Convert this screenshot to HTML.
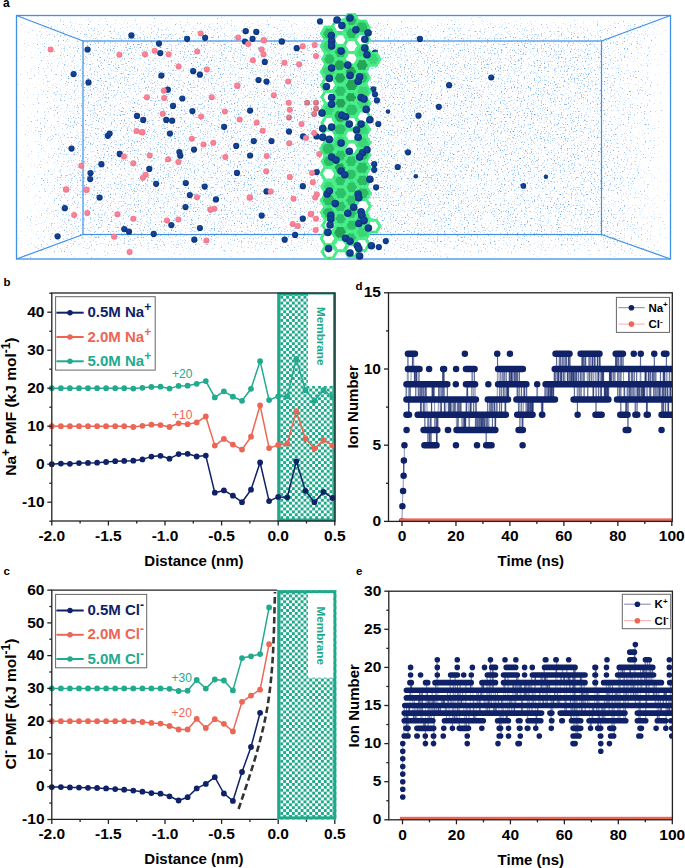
<!DOCTYPE html><html><head><meta charset="utf-8"><style>html,body{margin:0;padding:0;background:#fff;width:685px;height:868px;overflow:hidden}svg{display:block;font-family:"Liberation Sans",sans-serif}.tk{font-size:15.5px;font-weight:bold;fill:#000}.tt{font-size:15px;font-weight:bold;fill:#000}.pl{font-size:11.5px;font-weight:bold;fill:#000}</style></head><body><svg width="685" height="868" viewBox="0 0 685 868"><defs><pattern id="chk" patternUnits="userSpaceOnUse" width="5.8" height="5.8" x="280.3" y="0"><rect width="5.8" height="5.8" fill="#fff"/><rect width="2.9" height="2.9" fill="#1fa98b"/><rect x="2.9" y="2.9" width="2.9" height="2.9" fill="#1fa98b"/></pattern></defs><defs><filter id="nz" x="16" y="15" width="656" height="245" filterUnits="userSpaceOnUse" primitiveUnits="userSpaceOnUse" color-interpolation-filters="sRGB"><feTurbulence type="fractalNoise" baseFrequency="0.7" numOctaves="2" seed="3"/><feColorMatrix type="matrix" values="1 0 0 0 0  1 0 0 0 0  1 0 0 0 0  1 0 0 0 0" result="n"/><feComposite in="n" in2="SourceGraphic" operator="arithmetic" k1="0" k2="1" k3="0.15" k4="-0.15"/><feColorMatrix type="matrix" values="0 0 0 0 0.33  0 0 0 0 0.61  0 0 0 0 0.91  0 0 0 3.5 -2.03"/></filter><linearGradient id="gl" x1="0" x2="1" y1="0" y2="0"><stop offset="0" stop-color="#fff" stop-opacity="0"/><stop offset="0.35" stop-color="#fff" stop-opacity="0.62"/><stop offset="1" stop-color="#fff" stop-opacity="1"/></linearGradient><linearGradient id="gr" x1="1" x2="0" y1="0" y2="0"><stop offset="0" stop-color="#fff" stop-opacity="0"/><stop offset="0.35" stop-color="#fff" stop-opacity="0.62"/><stop offset="1" stop-color="#fff" stop-opacity="1"/></linearGradient><linearGradient id="gt" x1="0" x2="0" y1="0" y2="1"><stop offset="0" stop-color="#fff" stop-opacity="0"/><stop offset="0.35" stop-color="#fff" stop-opacity="0.62"/><stop offset="1" stop-color="#fff" stop-opacity="1"/></linearGradient><linearGradient id="gb" x1="0" x2="0" y1="1" y2="0"><stop offset="0" stop-color="#fff" stop-opacity="0"/><stop offset="0.35" stop-color="#fff" stop-opacity="0.62"/><stop offset="1" stop-color="#fff" stop-opacity="1"/></linearGradient><radialGradient id="bn" cx="0.45" cy="0.4" r="0.6"><stop offset="0" stop-color="#154a9e"/><stop offset="1" stop-color="#0a3078"/></radialGradient><radialGradient id="bp" cx="0.45" cy="0.4" r="0.6"><stop offset="0" stop-color="#fa8a9d"/><stop offset="1" stop-color="#f07489"/></radialGradient><radialGradient id="bd" cx="0.45" cy="0.4" r="0.6"><stop offset="0" stop-color="#e48c9a"/><stop offset="1" stop-color="#c86474"/></radialGradient><pattern id="hx" patternUnits="userSpaceOnUse" width="15" height="13" x="321" y="14"><rect width="15" height="13" fill="#35d571"/><polygon points="3.75,0.5 11.25,0.5 14.5,6.5 11.25,12.5 3.75,12.5 0.5,6.5" fill="#27b95c" stroke="#4cf08c" stroke-width="2.4"/></pattern></defs><text x="3" y="6.8" style="font-size:12px;font-weight:bold">a</text><g filter="url(#nz)"><rect x="16" y="15" width="656" height="245" fill="#fff" fill-opacity="0"/><rect x="83" y="41" width="518.5" height="193.5" fill="#fff"/><polygon points="16.5,15.5 83,41 83,234.5 16.5,259" fill="url(#gl)"/><polygon points="670.5,15.5 601.5,41 601.5,234.5 670.5,259" fill="url(#gr)"/><polygon points="16.5,15.5 670.5,15.5 601.5,41 83,41" fill="url(#gt)"/><polygon points="16.5,259 670.5,259 601.5,234.5 83,234.5" fill="url(#gb)"/></g><rect x="16.5" y="15.5" width="654" height="243.5" fill="none" stroke="#3f90e6" stroke-width="1.3"/><rect x="83" y="41" width="518.5" height="193.5" fill="none" stroke="#3f90e6" stroke-width="1.2"/><path d="M16.5 15.5L83 41M16.5 259L83 234.5M670.5 15.5L601.5 41M670.5 259L601.5 234.5" stroke="#3f90e6" stroke-width="1.2"/><g fill="url(#bn)"><circle cx="87.6" cy="49.5" r="3.1"/><circle cx="73.6" cy="74.1" r="3.1"/><circle cx="88.5" cy="82.4" r="3.1"/><circle cx="107.8" cy="135.8" r="3.1"/><circle cx="109.6" cy="133.6" r="3.1"/><circle cx="71.5" cy="148.6" r="3.1"/><circle cx="119.7" cy="153.9" r="3.1"/><circle cx="101.4" cy="164.2" r="3.1"/><circle cx="90.5" cy="173" r="3.1"/><circle cx="90.2" cy="179.1" r="3.1"/><circle cx="131.4" cy="35.4" r="3.1"/><circle cx="187.1" cy="38.8" r="3.1"/><circle cx="205.1" cy="37.8" r="3.1"/><circle cx="159" cy="43.6" r="3.1"/><circle cx="160.3" cy="53.1" r="3.1"/><circle cx="193.2" cy="71.2" r="3.1"/><circle cx="199.9" cy="74.7" r="3.1"/><circle cx="161.4" cy="75.5" r="3.1"/><circle cx="167.8" cy="89.7" r="3.1"/><circle cx="182.3" cy="98.5" r="3.1"/><circle cx="245.7" cy="31.1" r="3.2"/><circle cx="256.3" cy="31.9" r="3.1"/><circle cx="252.6" cy="38.8" r="3.1"/><circle cx="245" cy="41.5" r="3.1"/><circle cx="281.8" cy="41.5" r="3.2"/><circle cx="296.7" cy="48.2" r="3.1"/><circle cx="264.8" cy="61.9" r="3.1"/><circle cx="258.5" cy="80" r="3.1"/><circle cx="266.5" cy="81.6" r="3.1"/><circle cx="320" cy="21.4" r="3.1"/><circle cx="173" cy="105.9" r="3.1"/><circle cx="192.4" cy="111.1" r="3.1"/><circle cx="137" cy="115.9" r="3.1"/><circle cx="143.2" cy="119.9" r="3.1"/><circle cx="166.2" cy="119.9" r="3.1"/><circle cx="172.1" cy="120.7" r="3.1"/><circle cx="169.9" cy="133.5" r="3.1"/><circle cx="194" cy="149.6" r="3.1"/><circle cx="179.4" cy="152" r="3.1"/><circle cx="180.3" cy="155.7" r="3.1"/><circle cx="149.3" cy="168.9" r="3.1"/><circle cx="250.1" cy="110.6" r="3.1"/><circle cx="224.1" cy="126.8" r="3.1"/><circle cx="289" cy="131.6" r="3.1"/><circle cx="303.1" cy="136.4" r="3.1"/><circle cx="316.5" cy="136.4" r="3.1"/><circle cx="253.8" cy="141.1" r="3.1"/><circle cx="271.5" cy="141.1" r="3.1"/><circle cx="236.2" cy="145.9" r="3.1"/><circle cx="250.1" cy="155.5" r="3.1"/><circle cx="237" cy="172.9" r="3.1"/><circle cx="316.8" cy="172.1" r="3.1"/><circle cx="99.6" cy="197.5" r="3.1"/><circle cx="64.8" cy="208.2" r="3.1"/><circle cx="124.2" cy="229.1" r="3.1"/><circle cx="57.6" cy="236.3" r="3.1"/><circle cx="156.1" cy="183.8" r="3.1"/><circle cx="185.8" cy="183" r="3.1"/><circle cx="204.7" cy="186.6" r="3.1"/><circle cx="189.8" cy="195.1" r="3.1"/><circle cx="216" cy="199.4" r="3.1"/><circle cx="185.5" cy="207.1" r="3.1"/><circle cx="171.3" cy="225.1" r="3.1"/><circle cx="129" cy="231.7" r="3.1"/><circle cx="153.7" cy="233.9" r="3.1"/><circle cx="199.9" cy="228" r="3.1"/><circle cx="194.3" cy="239.7" r="3.1"/><circle cx="302.8" cy="186.2" r="3.1"/><circle cx="266.5" cy="191.4" r="3.1"/><circle cx="261.7" cy="215.6" r="3.1"/><circle cx="302.8" cy="218.7" r="3.1"/><circle cx="295.1" cy="234.9" r="3.1"/><circle cx="284.7" cy="239.7" r="3.1"/><circle cx="419.9" cy="38.9" r="3.1"/><circle cx="491.2" cy="77.4" r="3"/><circle cx="449.1" cy="85.2" r="3.1"/><circle cx="438.8" cy="106.8" r="3.1"/><circle cx="418.5" cy="115.7" r="3.1"/><circle cx="388" cy="111.5" r="2.3"/><circle cx="408" cy="152.3" r="3.1"/><circle cx="397.7" cy="167" r="3.1"/><circle cx="415.8" cy="176.2" r="2.3"/><circle cx="523.4" cy="185.9" r="2.8"/><circle cx="545.9" cy="176.7" r="2.2"/><circle cx="385.8" cy="241.1" r="3.1"/><circle cx="375" cy="52.7" r="3.1"/><circle cx="373.3" cy="89.3" r="3.1"/><circle cx="375" cy="94.3" r="3.1"/><circle cx="376.9" cy="100.4" r="3.1"/><circle cx="378.3" cy="124" r="3.1"/><circle cx="374.2" cy="164.2" r="3.1"/><circle cx="374.2" cy="169.8" r="3.1"/><circle cx="376.1" cy="187.3" r="3.1"/><circle cx="378.8" cy="247.1" r="3.1"/></g><g fill="url(#bp)"><circle cx="50.6" cy="49.5" r="3"/><circle cx="119.4" cy="54.8" r="3"/><circle cx="123.9" cy="156.6" r="3"/><circle cx="81.3" cy="165.8" r="3"/><circle cx="200.7" cy="33.5" r="3"/><circle cx="154.6" cy="50.7" r="3"/><circle cx="145" cy="54.3" r="3"/><circle cx="168.6" cy="54.3" r="3"/><circle cx="197.2" cy="51.6" r="3"/><circle cx="178.6" cy="66.4" r="3"/><circle cx="206.8" cy="69.6" r="3"/><circle cx="163.8" cy="90.8" r="3"/><circle cx="146.9" cy="97.2" r="3"/><circle cx="164.1" cy="98" r="3"/><circle cx="211.7" cy="97.2" r="3"/><circle cx="238.1" cy="37.5" r="3"/><circle cx="248.2" cy="43.9" r="3"/><circle cx="263.8" cy="40.2" r="3.2"/><circle cx="302.7" cy="46.3" r="3"/><circle cx="314.7" cy="45" r="3"/><circle cx="316" cy="56" r="3"/><circle cx="261.7" cy="49.5" r="3"/><circle cx="263.5" cy="54.3" r="3"/><circle cx="252.9" cy="60.3" r="3"/><circle cx="284.4" cy="62.7" r="3"/><circle cx="299.1" cy="64.3" r="3"/><circle cx="288.2" cy="81.6" r="3"/><circle cx="237.3" cy="85.7" r="3.2"/><circle cx="273.8" cy="95.3" r="3"/><circle cx="162.7" cy="113.8" r="3"/><circle cx="201.1" cy="116.4" r="3"/><circle cx="136.5" cy="131.1" r="3"/><circle cx="142.1" cy="132.3" r="3.3"/><circle cx="191.9" cy="138.7" r="3"/><circle cx="203.5" cy="144.5" r="3"/><circle cx="213.3" cy="142.7" r="3"/><circle cx="149.7" cy="155.5" r="3"/><circle cx="168.1" cy="159.2" r="3"/><circle cx="178.3" cy="162.1" r="3"/><circle cx="133.3" cy="163.3" r="3"/><circle cx="145.7" cy="174.8" r="3"/><circle cx="142.9" cy="177.7" r="3"/><circle cx="288.7" cy="102.7" r="3"/><circle cx="289.8" cy="109.8" r="3"/><circle cx="224.9" cy="111.5" r="3"/><circle cx="239.7" cy="119.4" r="3"/><circle cx="256.6" cy="122.6" r="3"/><circle cx="301.5" cy="123.9" r="3"/><circle cx="262.7" cy="130.7" r="3"/><circle cx="306" cy="137.9" r="3"/><circle cx="314.1" cy="133.1" r="3"/><circle cx="289.2" cy="143.2" r="3"/><circle cx="266.7" cy="156" r="3"/><circle cx="225.3" cy="157.1" r="3"/><circle cx="319.2" cy="154.1" r="3"/><circle cx="266.2" cy="171.3" r="3"/><circle cx="289.8" cy="176.9" r="3"/><circle cx="312" cy="172.9" r="3"/><circle cx="66.1" cy="189.5" r="3.2"/><circle cx="86.5" cy="189.8" r="3.2"/><circle cx="74.1" cy="215.1" r="3"/><circle cx="87.3" cy="213.1" r="3"/><circle cx="117.5" cy="214.3" r="3"/><circle cx="114.2" cy="236.8" r="3"/><circle cx="197" cy="197.2" r="3"/><circle cx="210.4" cy="209.8" r="3"/><circle cx="214.4" cy="208.7" r="3"/><circle cx="133.3" cy="218.8" r="3"/><circle cx="167" cy="220.4" r="3"/><circle cx="178.3" cy="219.5" r="3"/><circle cx="206.4" cy="240.4" r="3"/><circle cx="129.6" cy="252.1" r="3"/><circle cx="312.8" cy="182.2" r="3"/><circle cx="270.7" cy="191.5" r="3"/><circle cx="316.8" cy="194.6" r="3"/><circle cx="315.2" cy="197.5" r="3"/><circle cx="249.8" cy="197.5" r="3.2"/><circle cx="293.5" cy="198.8" r="3"/><circle cx="210.8" cy="209.5" r="3"/><circle cx="310.9" cy="214" r="3.3"/><circle cx="316" cy="218.7" r="3"/><circle cx="292.7" cy="224" r="3"/><circle cx="297.8" cy="226.1" r="3"/><circle cx="315.7" cy="229.9" r="3"/></g><g fill="url(#bd)"><circle cx="307.2" cy="102.7" r="2.9"/><circle cx="316" cy="102.7" r="2.9"/><circle cx="316" cy="108.7" r="2.9"/><circle cx="314.1" cy="114" r="2.9"/><circle cx="289" cy="117.5" r="2.9"/></g><polygon points="336.5,33.5 332.8,40.0 325.3,40.0 321.6,33.5 325.3,27.1 332.8,27.1" fill="#2bbd63"/><polygon points="335.8,46.1 332.2,52.4 324.9,52.4 321.2,46.1 324.9,39.8 332.2,39.8" fill="#3ad874"/><polygon points="336.2,59.1 332.8,65.0 326.0,65.0 322.6,59.1 326.0,53.2 332.8,53.2" fill="#2bbd63"/><polygon points="336.5,71.9 332.7,78.5 325.1,78.5 321.3,71.9 325.1,65.4 332.7,65.4" fill="#3ad874"/><polygon points="336.6,84.9 332.8,91.5 325.2,91.5 321.4,84.9 325.2,78.3 332.8,78.3" fill="#fff"/><polygon points="336.7,97.1 333.0,103.5 325.6,103.5 321.9,97.1 325.6,90.7 333.0,90.7" fill="#fff"/><polygon points="335.4,110.3 332.0,116.3 325.1,116.3 321.6,110.3 325.1,104.4 332.0,104.4" fill="#3ad874"/><polygon points="336.7,122.8 333.1,129.1 325.8,129.1 322.1,122.8 325.8,116.5 333.1,116.5" fill="#fff"/><polygon points="336.2,136.2 332.6,142.5 325.4,142.5 321.8,136.2 325.4,130.0 332.6,130.0" fill="#fff"/><polygon points="336.0,148.7 332.2,155.3 324.6,155.3 320.9,148.7 324.6,142.1 332.2,142.1" fill="#2bbd63"/><polygon points="336.5,161.4 332.9,167.6 325.8,167.6 322.2,161.4 325.8,155.2 332.9,155.2" fill="#2bbd63"/><polygon points="336.3,173.5 332.5,180.0 325.0,180.0 321.3,173.5 325.0,167.0 332.5,167.0" fill="#fff"/><polygon points="335.4,186.6 332.0,192.4 325.3,192.4 322.0,186.6 325.3,180.8 332.0,180.8" fill="#3ad874"/><polygon points="336.7,200.4 332.9,207.0 325.2,207.0 321.3,200.4 325.2,193.8 332.9,193.8" fill="#2bbd63"/><polygon points="336.0,212.6 332.3,218.9 325.0,218.9 321.4,212.6 325.0,206.3 332.3,206.3" fill="#2bbd63"/><polygon points="336.6,225.3 333.1,231.3 326.2,231.3 322.7,225.3 326.2,219.3 333.1,219.3" fill="#fff"/><polygon points="335.9,238.3 332.2,244.6 324.9,244.6 321.3,238.3 324.9,232.0 332.2,232.0" fill="#fff"/><polygon points="336.6,251.7 333.0,258.0 325.8,258.0 322.2,251.7 325.8,245.5 333.0,245.5" fill="#fff"/><polygon points="346.9,26.2 343.3,32.4 336.1,32.4 332.5,26.2 336.1,20.0 343.3,20.0" fill="#fff"/><polygon points="347.1,39.9 343.7,45.7 337.0,45.7 333.7,39.9 337.0,34.0 343.7,34.0" fill="#fff"/><polygon points="347.9,52.0 344.2,58.5 336.7,58.5 333.0,52.0 336.7,45.6 344.2,45.6" fill="#2bbd63"/><polygon points="346.4,65.2 342.9,71.2 336.1,71.2 332.7,65.2 336.1,59.3 342.9,59.3" fill="#22a656"/><polygon points="346.8,77.9 343.3,83.9 336.4,83.9 333.0,77.9 336.4,71.9 343.3,71.9" fill="#22a656"/><polygon points="347.5,91.3 343.9,97.5 336.8,97.5 333.2,91.3 336.8,85.1 343.9,85.1" fill="#2cc267"/><polygon points="347.5,103.1 344.1,109.0 337.4,109.0 334.0,103.1 337.4,97.3 344.1,97.3" fill="#22a656"/><polygon points="347.4,116.5 343.6,123.2 335.8,123.2 331.9,116.5 335.8,109.8 343.6,109.8" fill="#22a656"/><polygon points="347.3,129.5 343.7,135.8 336.4,135.8 332.8,129.5 336.4,123.1 343.7,123.1" fill="#2cc267"/><polygon points="348.2,142.1 344.5,148.5 337.1,148.5 333.4,142.1 337.1,135.7 344.5,135.7" fill="#3ad874"/><polygon points="347.7,155.4 344.1,161.6 336.9,161.6 333.4,155.4 336.9,149.2 344.1,149.2" fill="#2cc267"/><polygon points="347.0,168.4 343.4,174.6 336.2,174.6 332.6,168.4 336.2,162.1 343.4,162.1" fill="#22a656"/><polygon points="346.9,181.0 343.6,186.8 336.9,186.8 333.6,181.0 336.9,175.2 343.6,175.2" fill="#2cc267"/><polygon points="348.0,193.2 344.3,199.5 337.1,199.5 333.4,193.2 337.1,186.9 344.3,186.9" fill="#2cc267"/><polygon points="347.6,206.6 343.9,213.0 336.6,213.0 332.9,206.6 336.6,200.3 343.9,200.3" fill="#2cc267"/><polygon points="347.5,218.5 344.1,224.4 337.2,224.4 333.8,218.5 337.2,212.5 344.1,212.5" fill="#2cc267"/><polygon points="347.7,232.3 343.8,239.0 336.1,239.0 332.2,232.3 336.1,225.6 343.8,225.6" fill="#22a656"/><polygon points="346.9,245.0 343.6,250.8 336.9,250.8 333.5,245.0 336.9,239.2 343.6,239.2" fill="#fff"/><polygon points="358.0,20.4 354.7,26.2 348.0,26.2 344.7,20.4 348.0,14.6 354.7,14.6" fill="#2bbd63"/><polygon points="359.1,33.2 355.5,39.5 348.4,39.5 344.8,33.2 348.4,27.0 355.5,27.0" fill="#2bbd63"/><polygon points="358.8,46.0 355.1,52.4 347.7,52.4 344.0,46.0 347.7,39.6 355.1,39.6" fill="#fff"/><polygon points="358.5,58.7 354.9,64.9 347.8,64.9 344.3,58.7 347.8,52.6 354.9,52.6" fill="#fff"/><polygon points="357.8,71.6 354.4,77.6 347.6,77.6 344.1,71.6 347.6,65.7 354.4,65.7" fill="#22a656"/><polygon points="359.4,85.1 355.6,91.7 347.9,91.7 344.1,85.1 347.9,78.5 355.6,78.5" fill="#22a656"/><polygon points="357.7,97.5 354.3,103.4 347.4,103.4 344.0,97.5 347.4,91.5 354.3,91.5" fill="#22a656"/><polygon points="359.4,109.5 355.5,116.1 347.8,116.1 344.0,109.5 347.8,102.8 355.5,102.8" fill="#2cc267"/><polygon points="358.3,122.7 354.9,128.5 348.2,128.5 344.8,122.7 348.2,116.8 354.9,116.8" fill="#fff"/><polygon points="357.5,136.1 354.1,141.9 347.4,141.9 344.0,136.1 347.4,130.3 354.1,130.3" fill="#fff"/><polygon points="358.4,148.2 354.7,154.6 347.2,154.6 343.5,148.2 347.2,141.7 354.7,141.7" fill="#fff"/><polygon points="358.2,161.3 354.7,167.4 347.6,167.4 344.0,161.3 347.6,155.1 354.7,155.1" fill="#2cc267"/><polygon points="357.6,174.4 354.2,180.2 347.5,180.2 344.2,174.4 347.5,168.6 354.2,168.6" fill="#2cc267"/><polygon points="358.7,187.2 355.2,193.2 348.3,193.2 344.9,187.2 348.3,181.2 355.2,181.2" fill="#2cc267"/><polygon points="358.8,200.3 355.2,206.5 348.1,206.5 344.5,200.3 348.1,194.1 355.2,194.1" fill="#2cc267"/><polygon points="358.1,213.3 354.6,219.4 347.5,219.4 343.9,213.3 347.5,207.1 354.6,207.1" fill="#2cc267"/><polygon points="358.7,225.0 355.3,230.9 348.4,230.9 345.0,225.0 348.4,219.1 355.3,219.1" fill="#2cc267"/><polygon points="357.7,237.7 354.3,243.6 347.6,243.6 344.2,237.7 347.6,231.9 354.3,231.9" fill="#2cc267"/><polygon points="358.4,250.6 355.0,256.4 348.4,256.4 345.0,250.6 348.4,244.8 355.0,244.8" fill="#fff"/><polygon points="369.1,27.4 365.5,33.8 358.1,33.8 354.4,27.4 358.1,21.1 365.5,21.1" fill="#2bbd63"/><polygon points="369.3,39.6 365.7,45.8 358.6,45.8 355.0,39.6 358.6,33.4 365.7,33.4" fill="#fff"/><polygon points="369.4,51.8 365.9,57.7 359.1,57.7 355.7,51.8 359.1,45.9 365.9,45.9" fill="#3ad874"/><polygon points="369.4,65.2 365.7,71.6 358.2,71.6 354.5,65.2 358.2,58.8 365.7,58.8" fill="#22a656"/><polygon points="369.2,77.6 365.6,83.9 358.3,83.9 354.7,77.6 358.3,71.3 365.6,71.3" fill="#2cc267"/><polygon points="370.0,91.3 366.5,97.4 359.4,97.4 355.9,91.3 359.4,85.3 366.5,85.3" fill="#3ad874"/><polygon points="369.8,103.6 366.2,109.8 359.0,109.8 355.4,103.6 359.0,97.3 366.2,97.3" fill="#3ad874"/><polygon points="370.1,117.0 366.6,123.0 359.6,123.0 356.1,117.0 359.6,110.9 366.6,110.9" fill="#fff"/><polygon points="369.5,129.7 366.1,135.6 359.3,135.6 356.0,129.7 359.3,123.9 366.1,123.9" fill="#3ad874"/><polygon points="369.9,142.7 366.4,148.7 359.5,148.7 356.0,142.7 359.5,136.7 366.4,136.7" fill="#3ad874"/><polygon points="369.8,154.9 366.3,160.9 359.3,160.9 355.7,154.9 359.3,148.8 366.3,148.8" fill="#2bbd63"/><polygon points="369.8,167.8 366.0,174.3 358.4,174.3 354.6,167.8 358.4,161.2 366.0,161.2" fill="#2bbd63"/><polygon points="369.9,180.8 366.2,187.1 358.9,187.1 355.3,180.8 358.9,174.5 366.2,174.5" fill="#2bbd63"/><polygon points="370.3,193.2 366.5,199.9 358.8,199.9 354.9,193.2 358.8,186.5 366.5,186.5" fill="#2bbd63"/><polygon points="370.2,206.1 366.3,212.8 358.6,212.8 354.7,206.1 358.6,199.4 366.3,199.4" fill="#fff"/><polygon points="370.2,219.4 366.5,226.0 358.9,226.0 355.1,219.4 358.9,212.9 366.5,212.9" fill="#2bbd63"/><polygon points="370.0,232.2 366.3,238.7 358.8,238.7 355.1,232.2 358.8,225.8 366.3,225.8" fill="#3ad874"/><polygon points="369.0,244.3 365.4,250.5 358.2,250.5 354.6,244.3 358.2,238.0 365.4,238.0" fill="#fff"/><polygon points="379.9,59.2 376.5,65.2 369.6,65.2 366.1,59.2 369.6,53.2 376.5,53.2" fill="#3ad874"/><polygon points="379.9,226.2 376.5,232.0 369.8,232.0 366.4,226.2 369.8,220.3 376.5,220.3" fill="#fff"/><g fill="none" stroke="#3fe27f" stroke-width="2.6"><polygon points="336.5,33.5 332.8,40.0 325.3,40.0 321.6,33.5 325.3,27.1 332.8,27.1"/><polygon points="335.8,46.1 332.2,52.4 324.9,52.4 321.2,46.1 324.9,39.8 332.2,39.8"/><polygon points="336.2,59.1 332.8,65.0 326.0,65.0 322.6,59.1 326.0,53.2 332.8,53.2"/><polygon points="336.5,71.9 332.7,78.5 325.1,78.5 321.3,71.9 325.1,65.4 332.7,65.4"/><polygon points="336.6,84.9 332.8,91.5 325.2,91.5 321.4,84.9 325.2,78.3 332.8,78.3"/><polygon points="336.7,97.1 333.0,103.5 325.6,103.5 321.9,97.1 325.6,90.7 333.0,90.7"/><polygon points="335.4,110.3 332.0,116.3 325.1,116.3 321.6,110.3 325.1,104.4 332.0,104.4"/><polygon points="336.7,122.8 333.1,129.1 325.8,129.1 322.1,122.8 325.8,116.5 333.1,116.5"/><polygon points="336.2,136.2 332.6,142.5 325.4,142.5 321.8,136.2 325.4,130.0 332.6,130.0"/><polygon points="336.0,148.7 332.2,155.3 324.6,155.3 320.9,148.7 324.6,142.1 332.2,142.1"/><polygon points="336.5,161.4 332.9,167.6 325.8,167.6 322.2,161.4 325.8,155.2 332.9,155.2"/><polygon points="336.3,173.5 332.5,180.0 325.0,180.0 321.3,173.5 325.0,167.0 332.5,167.0"/><polygon points="335.4,186.6 332.0,192.4 325.3,192.4 322.0,186.6 325.3,180.8 332.0,180.8"/><polygon points="336.7,200.4 332.9,207.0 325.2,207.0 321.3,200.4 325.2,193.8 332.9,193.8"/><polygon points="336.0,212.6 332.3,218.9 325.0,218.9 321.4,212.6 325.0,206.3 332.3,206.3"/><polygon points="336.6,225.3 333.1,231.3 326.2,231.3 322.7,225.3 326.2,219.3 333.1,219.3"/><polygon points="335.9,238.3 332.2,244.6 324.9,244.6 321.3,238.3 324.9,232.0 332.2,232.0"/><polygon points="336.6,251.7 333.0,258.0 325.8,258.0 322.2,251.7 325.8,245.5 333.0,245.5"/><polygon points="346.9,26.2 343.3,32.4 336.1,32.4 332.5,26.2 336.1,20.0 343.3,20.0"/><polygon points="347.1,39.9 343.7,45.7 337.0,45.7 333.7,39.9 337.0,34.0 343.7,34.0"/><polygon points="347.9,52.0 344.2,58.5 336.7,58.5 333.0,52.0 336.7,45.6 344.2,45.6"/><polygon points="346.4,65.2 342.9,71.2 336.1,71.2 332.7,65.2 336.1,59.3 342.9,59.3"/><polygon points="346.8,77.9 343.3,83.9 336.4,83.9 333.0,77.9 336.4,71.9 343.3,71.9"/><polygon points="347.5,91.3 343.9,97.5 336.8,97.5 333.2,91.3 336.8,85.1 343.9,85.1"/><polygon points="347.5,103.1 344.1,109.0 337.4,109.0 334.0,103.1 337.4,97.3 344.1,97.3"/><polygon points="347.4,116.5 343.6,123.2 335.8,123.2 331.9,116.5 335.8,109.8 343.6,109.8"/><polygon points="347.3,129.5 343.7,135.8 336.4,135.8 332.8,129.5 336.4,123.1 343.7,123.1"/><polygon points="348.2,142.1 344.5,148.5 337.1,148.5 333.4,142.1 337.1,135.7 344.5,135.7"/><polygon points="347.7,155.4 344.1,161.6 336.9,161.6 333.4,155.4 336.9,149.2 344.1,149.2"/><polygon points="347.0,168.4 343.4,174.6 336.2,174.6 332.6,168.4 336.2,162.1 343.4,162.1"/><polygon points="346.9,181.0 343.6,186.8 336.9,186.8 333.6,181.0 336.9,175.2 343.6,175.2"/><polygon points="348.0,193.2 344.3,199.5 337.1,199.5 333.4,193.2 337.1,186.9 344.3,186.9"/><polygon points="347.6,206.6 343.9,213.0 336.6,213.0 332.9,206.6 336.6,200.3 343.9,200.3"/><polygon points="347.5,218.5 344.1,224.4 337.2,224.4 333.8,218.5 337.2,212.5 344.1,212.5"/><polygon points="347.7,232.3 343.8,239.0 336.1,239.0 332.2,232.3 336.1,225.6 343.8,225.6"/><polygon points="346.9,245.0 343.6,250.8 336.9,250.8 333.5,245.0 336.9,239.2 343.6,239.2"/><polygon points="358.0,20.4 354.7,26.2 348.0,26.2 344.7,20.4 348.0,14.6 354.7,14.6"/><polygon points="359.1,33.2 355.5,39.5 348.4,39.5 344.8,33.2 348.4,27.0 355.5,27.0"/><polygon points="358.8,46.0 355.1,52.4 347.7,52.4 344.0,46.0 347.7,39.6 355.1,39.6"/><polygon points="358.5,58.7 354.9,64.9 347.8,64.9 344.3,58.7 347.8,52.6 354.9,52.6"/><polygon points="357.8,71.6 354.4,77.6 347.6,77.6 344.1,71.6 347.6,65.7 354.4,65.7"/><polygon points="359.4,85.1 355.6,91.7 347.9,91.7 344.1,85.1 347.9,78.5 355.6,78.5"/><polygon points="357.7,97.5 354.3,103.4 347.4,103.4 344.0,97.5 347.4,91.5 354.3,91.5"/><polygon points="359.4,109.5 355.5,116.1 347.8,116.1 344.0,109.5 347.8,102.8 355.5,102.8"/><polygon points="358.3,122.7 354.9,128.5 348.2,128.5 344.8,122.7 348.2,116.8 354.9,116.8"/><polygon points="357.5,136.1 354.1,141.9 347.4,141.9 344.0,136.1 347.4,130.3 354.1,130.3"/><polygon points="358.4,148.2 354.7,154.6 347.2,154.6 343.5,148.2 347.2,141.7 354.7,141.7"/><polygon points="358.2,161.3 354.7,167.4 347.6,167.4 344.0,161.3 347.6,155.1 354.7,155.1"/><polygon points="357.6,174.4 354.2,180.2 347.5,180.2 344.2,174.4 347.5,168.6 354.2,168.6"/><polygon points="358.7,187.2 355.2,193.2 348.3,193.2 344.9,187.2 348.3,181.2 355.2,181.2"/><polygon points="358.8,200.3 355.2,206.5 348.1,206.5 344.5,200.3 348.1,194.1 355.2,194.1"/><polygon points="358.1,213.3 354.6,219.4 347.5,219.4 343.9,213.3 347.5,207.1 354.6,207.1"/><polygon points="358.7,225.0 355.3,230.9 348.4,230.9 345.0,225.0 348.4,219.1 355.3,219.1"/><polygon points="357.7,237.7 354.3,243.6 347.6,243.6 344.2,237.7 347.6,231.9 354.3,231.9"/><polygon points="358.4,250.6 355.0,256.4 348.4,256.4 345.0,250.6 348.4,244.8 355.0,244.8"/><polygon points="369.1,27.4 365.5,33.8 358.1,33.8 354.4,27.4 358.1,21.1 365.5,21.1"/><polygon points="369.3,39.6 365.7,45.8 358.6,45.8 355.0,39.6 358.6,33.4 365.7,33.4"/><polygon points="369.4,51.8 365.9,57.7 359.1,57.7 355.7,51.8 359.1,45.9 365.9,45.9"/><polygon points="369.4,65.2 365.7,71.6 358.2,71.6 354.5,65.2 358.2,58.8 365.7,58.8"/><polygon points="369.2,77.6 365.6,83.9 358.3,83.9 354.7,77.6 358.3,71.3 365.6,71.3"/><polygon points="370.0,91.3 366.5,97.4 359.4,97.4 355.9,91.3 359.4,85.3 366.5,85.3"/><polygon points="369.8,103.6 366.2,109.8 359.0,109.8 355.4,103.6 359.0,97.3 366.2,97.3"/><polygon points="370.1,117.0 366.6,123.0 359.6,123.0 356.1,117.0 359.6,110.9 366.6,110.9"/><polygon points="369.5,129.7 366.1,135.6 359.3,135.6 356.0,129.7 359.3,123.9 366.1,123.9"/><polygon points="369.9,142.7 366.4,148.7 359.5,148.7 356.0,142.7 359.5,136.7 366.4,136.7"/><polygon points="369.8,154.9 366.3,160.9 359.3,160.9 355.7,154.9 359.3,148.8 366.3,148.8"/><polygon points="369.8,167.8 366.0,174.3 358.4,174.3 354.6,167.8 358.4,161.2 366.0,161.2"/><polygon points="369.9,180.8 366.2,187.1 358.9,187.1 355.3,180.8 358.9,174.5 366.2,174.5"/><polygon points="370.3,193.2 366.5,199.9 358.8,199.9 354.9,193.2 358.8,186.5 366.5,186.5"/><polygon points="370.2,206.1 366.3,212.8 358.6,212.8 354.7,206.1 358.6,199.4 366.3,199.4"/><polygon points="370.2,219.4 366.5,226.0 358.9,226.0 355.1,219.4 358.9,212.9 366.5,212.9"/><polygon points="370.0,232.2 366.3,238.7 358.8,238.7 355.1,232.2 358.8,225.8 366.3,225.8"/><polygon points="369.0,244.3 365.4,250.5 358.2,250.5 354.6,244.3 358.2,238.0 365.4,238.0"/><polygon points="379.9,59.2 376.5,65.2 369.6,65.2 366.1,59.2 369.6,53.2 376.5,53.2"/><polygon points="379.9,226.2 376.5,232.0 369.8,232.0 366.4,226.2 369.8,220.3 376.5,220.3"/></g><path d="M336.5 33.5h0M334.7 36.8h0M332.8 40.0h0M325.3 40.0h0M321.6 33.5h0M323.5 30.3h0M325.3 27.1h0M329.1 27.1h0M332.8 27.1h0M334.7 30.3h0M335.8 46.1h0M334.0 49.3h0M332.2 52.4h0M324.9 52.4h0M323.0 49.3h0M321.2 46.1h0M323.0 42.9h0M324.9 39.8h0M328.5 39.8h0M332.2 39.8h0M336.2 59.1h0M332.8 65.0h0M326.0 65.0h0M322.6 59.1h0M324.3 56.2h0M326.0 53.2h0M332.8 53.2h0M336.5 71.9h0M334.6 75.2h0M332.7 78.5h0M325.1 78.5h0M323.2 75.2h0M321.3 71.9h0M325.1 65.4h0M328.9 65.4h0M332.7 65.4h0M336.6 84.9h0M332.8 91.5h0M329.0 91.5h0M325.2 91.5h0M323.3 88.2h0M321.4 84.9h0M323.3 81.6h0M325.2 78.3h0M332.8 78.3h0M336.7 97.1h0M333.0 103.5h0M325.6 103.5h0M323.7 100.3h0M321.9 97.1h0M325.6 90.7h0M333.0 90.7h0M334.8 93.9h0M335.4 110.3h0M333.7 113.3h0M332.0 116.3h0M328.5 116.3h0M325.1 116.3h0M321.6 110.3h0M323.4 107.3h0M325.1 104.4h0M332.0 104.4h0M333.7 107.3h0M336.7 122.8h0M333.1 129.1h0M329.4 129.1h0M325.8 129.1h0M322.1 122.8h0M324.0 119.6h0M325.8 116.5h0M333.1 116.5h0M336.2 136.2h0M332.6 142.5h0M325.4 142.5h0M321.8 136.2h0M325.4 130.0h0M329.0 130.0h0M332.6 130.0h0M336.0 148.7h0M334.1 152.0h0M332.2 155.3h0M328.4 155.3h0M324.6 155.3h0M320.9 148.7h0M324.6 142.1h0M332.2 142.1h0M336.5 161.4h0M334.7 164.5h0M332.9 167.6h0M329.4 167.6h0M325.8 167.6h0M322.2 161.4h0M325.8 155.2h0M332.9 155.2h0M336.3 173.5h0M332.5 180.0h0M328.8 180.0h0M325.0 180.0h0M323.1 176.8h0M321.3 173.5h0M323.1 170.3h0M325.0 167.0h0M332.5 167.0h0M334.4 170.3h0M335.4 186.6h0M332.0 192.4h0M328.7 192.4h0M325.3 192.4h0M323.6 189.5h0M322.0 186.6h0M323.6 183.7h0M325.3 180.8h0M328.7 180.8h0M332.0 180.8h0M333.7 183.7h0M336.7 200.4h0M332.9 207.0h0M325.2 207.0h0M323.3 203.7h0M321.3 200.4h0M325.2 193.8h0M329.0 193.8h0M332.9 193.8h0M336.0 212.6h0M334.1 215.7h0M332.3 218.9h0M325.0 218.9h0M323.2 215.7h0M321.4 212.6h0M325.0 206.3h0M332.3 206.3h0M334.1 209.4h0M336.6 225.3h0M334.8 228.3h0M333.1 231.3h0M329.6 231.3h0M326.2 231.3h0M322.7 225.3h0M326.2 219.3h0M329.6 219.3h0M333.1 219.3h0M334.8 222.3h0M335.9 238.3h0M334.1 241.5h0M332.2 244.6h0M324.9 244.6h0M323.1 241.5h0M321.3 238.3h0M323.1 235.1h0M324.9 232.0h0M332.2 232.0h0M336.6 251.7h0M334.8 254.9h0M333.0 258.0h0M325.8 258.0h0M322.2 251.7h0M324.0 248.6h0M325.8 245.5h0M333.0 245.5h0M334.8 248.6h0M346.9 26.2h0M343.3 32.4h0M336.1 32.4h0M334.3 29.3h0M332.5 26.2h0M336.1 20.0h0M339.7 20.0h0M343.3 20.0h0M347.1 39.9h0M343.7 45.7h0M340.4 45.7h0M337.0 45.7h0M333.7 39.9h0M337.0 34.0h0M343.7 34.0h0M345.4 36.9h0M347.9 52.0h0M346.0 55.2h0M344.2 58.5h0M340.5 58.5h0M336.7 58.5h0M334.9 55.2h0M333.0 52.0h0M334.9 48.8h0M336.7 45.6h0M344.2 45.6h0M346.0 48.8h0M346.4 65.2h0M342.9 71.2h0M336.1 71.2h0M334.4 68.2h0M332.7 65.2h0M336.1 59.3h0M342.9 59.3h0M346.8 77.9h0M343.3 83.9h0M336.4 83.9h0M334.7 80.9h0M333.0 77.9h0M336.4 71.9h0M339.9 71.9h0M343.3 71.9h0M347.5 91.3h0M343.9 97.5h0M340.4 97.5h0M336.8 97.5h0M333.2 91.3h0M335.0 88.2h0M336.8 85.1h0M340.4 85.1h0M343.9 85.1h0M347.5 103.1h0M344.1 109.0h0M340.8 109.0h0M337.4 109.0h0M335.7 106.1h0M334.0 103.1h0M337.4 97.3h0M340.8 97.3h0M344.1 97.3h0M347.4 116.5h0M345.5 119.8h0M343.6 123.2h0M335.8 123.2h0M333.9 119.8h0M331.9 116.5h0M335.8 109.8h0M339.7 109.8h0M343.6 109.8h0M345.5 113.1h0M347.3 129.5h0M345.5 132.6h0M343.7 135.8h0M336.4 135.8h0M332.8 129.5h0M336.4 123.1h0M343.7 123.1h0M348.2 142.1h0M344.5 148.5h0M340.8 148.5h0M337.1 148.5h0M333.4 142.1h0M335.3 138.9h0M337.1 135.7h0M344.5 135.7h0M346.4 138.9h0M347.7 155.4h0M344.1 161.6h0M336.9 161.6h0M335.1 158.5h0M333.4 155.4h0M335.1 152.3h0M336.9 149.2h0M340.5 149.2h0M344.1 149.2h0M347.0 168.4h0M343.4 174.6h0M336.2 174.6h0M332.6 168.4h0M336.2 162.1h0M339.8 162.1h0M343.4 162.1h0M345.2 165.2h0M346.9 181.0h0M345.3 183.9h0M343.6 186.8h0M340.3 186.8h0M336.9 186.8h0M335.2 183.9h0M333.6 181.0h0M336.9 175.2h0M340.3 175.2h0M343.6 175.2h0M348.0 193.2h0M344.3 199.5h0M340.7 199.5h0M337.1 199.5h0M335.2 196.4h0M333.4 193.2h0M335.2 190.1h0M337.1 186.9h0M340.7 186.9h0M344.3 186.9h0M346.2 190.1h0M347.6 206.6h0M345.8 209.8h0M343.9 213.0h0M336.6 213.0h0M334.8 209.8h0M332.9 206.6h0M336.6 200.3h0M340.3 200.3h0M343.9 200.3h0M345.8 203.5h0M347.5 218.5h0M344.1 224.4h0M337.2 224.4h0M335.5 221.4h0M333.8 218.5h0M335.5 215.5h0M337.2 212.5h0M340.6 212.5h0M344.1 212.5h0M345.8 215.5h0M347.7 232.3h0M345.8 235.6h0M343.8 239.0h0M336.1 239.0h0M332.2 232.3h0M334.2 228.9h0M336.1 225.6h0M340.0 225.6h0M343.8 225.6h0M346.9 245.0h0M343.6 250.8h0M340.2 250.8h0M336.9 250.8h0M335.2 247.9h0M333.5 245.0h0M335.2 242.1h0M336.9 239.2h0M340.2 239.2h0M343.6 239.2h0M345.3 242.1h0M358.0 20.4h0M354.7 26.2h0M348.0 26.2h0M346.3 23.3h0M344.7 20.4h0M346.3 17.5h0M348.0 14.6h0M354.7 14.6h0M356.4 17.5h0M359.1 33.2h0M357.3 36.4h0M355.5 39.5h0M352.0 39.5h0M348.4 39.5h0M344.8 33.2h0M348.4 27.0h0M352.0 27.0h0M355.5 27.0h0M357.3 30.1h0M358.8 46.0h0M356.9 49.2h0M355.1 52.4h0M347.7 52.4h0M344.0 46.0h0M347.7 39.6h0M355.1 39.6h0M356.9 42.8h0M358.5 58.7h0M356.7 61.8h0M354.9 64.9h0M347.8 64.9h0M346.0 61.8h0M344.3 58.7h0M346.0 55.7h0M347.8 52.6h0M351.4 52.6h0M354.9 52.6h0M357.8 71.6h0M356.1 74.6h0M354.4 77.6h0M351.0 77.6h0M347.6 77.6h0M345.8 74.6h0M344.1 71.6h0M345.8 68.7h0M347.6 65.7h0M354.4 65.7h0M359.4 85.1h0M357.5 88.4h0M355.6 91.7h0M351.7 91.7h0M347.9 91.7h0M344.1 85.1h0M346.0 81.8h0M347.9 78.5h0M351.7 78.5h0M355.6 78.5h0M357.5 81.8h0M357.7 97.5h0M356.0 100.4h0M354.3 103.4h0M347.4 103.4h0M344.0 97.5h0M345.7 94.5h0M347.4 91.5h0M350.9 91.5h0M354.3 91.5h0M356.0 94.5h0M359.4 109.5h0M355.5 116.1h0M347.8 116.1h0M344.0 109.5h0M345.9 106.1h0M347.8 102.8h0M351.7 102.8h0M355.5 102.8h0M357.5 106.1h0M358.3 122.7h0M356.6 125.6h0M354.9 128.5h0M348.2 128.5h0M344.8 122.7h0M346.5 119.8h0M348.2 116.8h0M351.6 116.8h0M354.9 116.8h0M356.6 119.8h0M357.5 136.1h0M354.1 141.9h0M350.7 141.9h0M347.4 141.9h0M345.7 139.0h0M344.0 136.1h0M345.7 133.2h0M347.4 130.3h0M354.1 130.3h0M355.8 133.2h0M358.4 148.2h0M354.7 154.6h0M347.2 154.6h0M345.4 151.4h0M343.5 148.2h0M345.4 144.9h0M347.2 141.7h0M351.0 141.7h0M354.7 141.7h0M358.2 161.3h0M354.7 167.4h0M351.1 167.4h0M347.6 167.4h0M345.8 164.4h0M344.0 161.3h0M345.8 158.2h0M347.6 155.1h0M351.1 155.1h0M354.7 155.1h0M356.5 158.2h0M357.6 174.4h0M354.2 180.2h0M347.5 180.2h0M344.2 174.4h0M345.9 171.5h0M347.5 168.6h0M354.2 168.6h0M358.7 187.2h0M355.2 193.2h0M348.3 193.2h0M344.9 187.2h0M346.6 184.2h0M348.3 181.2h0M355.2 181.2h0M357.0 184.2h0M358.8 200.3h0M357.0 203.4h0M355.2 206.5h0M351.6 206.5h0M348.1 206.5h0M346.3 203.4h0M344.5 200.3h0M346.3 197.2h0M348.1 194.1h0M351.6 194.1h0M355.2 194.1h0M357.0 197.2h0M358.1 213.3h0M356.4 216.3h0M354.6 219.4h0M347.5 219.4h0M345.7 216.3h0M343.9 213.3h0M345.7 210.2h0M347.5 207.1h0M351.0 207.1h0M354.6 207.1h0M356.4 210.2h0M358.7 225.0h0M355.3 230.9h0M348.4 230.9h0M345.0 225.0h0M346.7 222.0h0M348.4 219.1h0M351.8 219.1h0M355.3 219.1h0M357.0 222.0h0M357.7 237.7h0M356.0 240.7h0M354.3 243.6h0M351.0 243.6h0M347.6 243.6h0M344.2 237.7h0M345.9 234.8h0M347.6 231.9h0M351.0 231.9h0M354.3 231.9h0M356.0 234.8h0M358.4 250.6h0M355.0 256.4h0M348.4 256.4h0M346.7 253.5h0M345.0 250.6h0M348.4 244.8h0M351.7 244.8h0M355.0 244.8h0M356.7 247.7h0M369.1 27.4h0M367.3 30.6h0M365.5 33.8h0M358.1 33.8h0M354.4 27.4h0M358.1 21.1h0M365.5 21.1h0M369.3 39.6h0M367.5 42.7h0M365.7 45.8h0M358.6 45.8h0M355.0 39.6h0M356.8 36.5h0M358.6 33.4h0M365.7 33.4h0M367.5 36.5h0M369.4 51.8h0M367.6 54.7h0M365.9 57.7h0M362.5 57.7h0M359.1 57.7h0M355.7 51.8h0M357.4 48.8h0M359.1 45.9h0M362.5 45.9h0M365.9 45.9h0M367.6 48.8h0M369.4 65.2h0M367.5 68.4h0M365.7 71.6h0M358.2 71.6h0M356.4 68.4h0M354.5 65.2h0M356.4 62.0h0M358.2 58.8h0M362.0 58.8h0M365.7 58.8h0M369.2 77.6h0M365.6 83.9h0M358.3 83.9h0M354.7 77.6h0M356.5 74.5h0M358.3 71.3h0M362.0 71.3h0M365.6 71.3h0M370.0 91.3h0M366.5 97.4h0M359.4 97.4h0M355.9 91.3h0M359.4 85.3h0M363.0 85.3h0M366.5 85.3h0M369.8 103.6h0M368.0 106.7h0M366.2 109.8h0M362.6 109.8h0M359.0 109.8h0M355.4 103.6h0M359.0 97.3h0M362.6 97.3h0M366.2 97.3h0M368.0 100.5h0M370.1 117.0h0M366.6 123.0h0M363.1 123.0h0M359.6 123.0h0M357.8 120.0h0M356.1 117.0h0M357.8 113.9h0M359.6 110.9h0M363.1 110.9h0M366.6 110.9h0M369.5 129.7h0M366.1 135.6h0M362.7 135.6h0M359.3 135.6h0M357.7 132.7h0M356.0 129.7h0M359.3 123.9h0M366.1 123.9h0M367.8 126.8h0M369.9 142.7h0M366.4 148.7h0M363.0 148.7h0M359.5 148.7h0M356.0 142.7h0M357.7 139.7h0M359.5 136.7h0M366.4 136.7h0M368.2 139.7h0M369.8 154.9h0M366.3 160.9h0M359.3 160.9h0M355.7 154.9h0M357.5 151.8h0M359.3 148.8h0M366.3 148.8h0M369.8 167.8h0M367.9 171.0h0M366.0 174.3h0M362.2 174.3h0M358.4 174.3h0M354.6 167.8h0M356.5 164.5h0M358.4 161.2h0M362.2 161.2h0M366.0 161.2h0M367.9 164.5h0M369.9 180.8h0M366.2 187.1h0M362.6 187.1h0M358.9 187.1h0M355.3 180.8h0M357.1 177.6h0M358.9 174.5h0M366.2 174.5h0M368.1 177.6h0M370.3 193.2h0M368.4 196.5h0M366.5 199.9h0M358.8 199.9h0M356.9 196.5h0M354.9 193.2h0M356.9 189.9h0M358.8 186.5h0M362.6 186.5h0M366.5 186.5h0M370.2 206.1h0M368.3 209.5h0M366.3 212.8h0M362.4 212.8h0M358.6 212.8h0M354.7 206.1h0M356.6 202.7h0M358.6 199.4h0M362.4 199.4h0M366.3 199.4h0M368.3 202.7h0M370.2 219.4h0M368.3 222.7h0M366.5 226.0h0M362.7 226.0h0M358.9 226.0h0M355.1 219.4h0M358.9 212.9h0M366.5 212.9h0M368.3 216.2h0M370.0 232.2h0M366.3 238.7h0M362.6 238.7h0M358.8 238.7h0M357.0 235.4h0M355.1 232.2h0M357.0 229.0h0M358.8 225.8h0M366.3 225.8h0M368.1 229.0h0M369.0 244.3h0M367.2 247.4h0M365.4 250.5h0M361.8 250.5h0M358.2 250.5h0M354.6 244.3h0M356.4 241.2h0M358.2 238.0h0M365.4 238.0h0M367.2 241.2h0M379.9 59.2h0M378.2 62.2h0M376.5 65.2h0M373.0 65.2h0M369.6 65.2h0M367.8 62.2h0M366.1 59.2h0M367.8 56.2h0M369.6 53.2h0M376.5 53.2h0M378.2 56.2h0M379.9 226.2h0M378.2 229.1h0M376.5 232.0h0M369.8 232.0h0M368.1 229.1h0M366.4 226.2h0M369.8 220.3h0M373.1 220.3h0M376.5 220.3h0M378.2 223.2h0" stroke="#4cee8c" stroke-width="3.4" stroke-linecap="round"/><g fill="url(#bn)"><circle cx="341.9" cy="25.6" r="3.8"/><circle cx="355.9" cy="29.7" r="3.8"/><circle cx="368.1" cy="32.7" r="3.8"/><circle cx="364.8" cy="39.3" r="3.8"/><circle cx="331.3" cy="35.6" r="3.8"/><circle cx="331.6" cy="41" r="3.8"/><circle cx="331.6" cy="45.9" r="3.8"/><circle cx="341.1" cy="51.1" r="3.8"/><circle cx="364.8" cy="48.1" r="3.8"/><circle cx="367" cy="54.8" r="3.8"/><circle cx="347.8" cy="65.1" r="3.8"/><circle cx="331.6" cy="68.1" r="3.8"/><circle cx="329.3" cy="78.4" r="3.8"/><circle cx="326.4" cy="86.5" r="3.8"/><circle cx="359.6" cy="76.9" r="3.8"/><circle cx="358.1" cy="81.3" r="3.8"/><circle cx="350" cy="75.4" r="3.8"/><circle cx="331.6" cy="97.6" r="3.8"/><circle cx="331.6" cy="104.2" r="3.8"/><circle cx="361.1" cy="97.6" r="3.8"/><circle cx="364" cy="99" r="3.8"/><circle cx="366.2" cy="109.4" r="3.8"/><circle cx="322" cy="113.1" r="3.8"/><circle cx="341.9" cy="115.3" r="3.8"/><circle cx="345.6" cy="116.8" r="3.8"/><circle cx="349.3" cy="124.1" r="3.8"/><circle cx="331.6" cy="127.1" r="3.8"/><circle cx="322.7" cy="128.6" r="3.8"/><circle cx="369.9" cy="119.7" r="3.8"/><circle cx="356.6" cy="130" r="3.8"/><circle cx="361.1" cy="124.1" r="3.8"/><circle cx="322.7" cy="137.2" r="3.8"/><circle cx="329.3" cy="139.4" r="3.8"/><circle cx="358.1" cy="137.2" r="3.8"/><circle cx="341.1" cy="143.1" r="3.8"/><circle cx="349.3" cy="151.2" r="3.8"/><circle cx="331.6" cy="157.1" r="3.8"/><circle cx="336" cy="160.1" r="3.8"/><circle cx="362.5" cy="152.7" r="3.8"/><circle cx="367" cy="149.8" r="3.8"/><circle cx="359.6" cy="157.1" r="3.8"/><circle cx="341.1" cy="171.1" r="3.8"/><circle cx="344.8" cy="174.8" r="3.8"/><circle cx="369.9" cy="179.3" r="3.8"/><circle cx="327.1" cy="194" r="3.8"/><circle cx="329.3" cy="191.1" r="3.8"/><circle cx="358.1" cy="194" r="3.8"/><circle cx="358.8" cy="197.7" r="3.8"/><circle cx="335.2" cy="203.6" r="3.8"/><circle cx="353.7" cy="207.3" r="3.8"/><circle cx="347.8" cy="213.2" r="3.8"/><circle cx="330.8" cy="215.4" r="3.8"/><circle cx="330.8" cy="219.1" r="3.8"/><circle cx="361.1" cy="211.7" r="3.8"/><circle cx="361.8" cy="215.4" r="3.8"/><circle cx="364" cy="220.6" r="3.8"/><circle cx="358.8" cy="223.5" r="3.8"/><circle cx="368.4" cy="228" r="3.8"/><circle cx="330.1" cy="225" r="3.8"/><circle cx="327.9" cy="232.4" r="3.8"/><circle cx="345.6" cy="238.3" r="3.8"/><circle cx="350" cy="241.2" r="3.8"/><circle cx="328.6" cy="248.6" r="3.8"/><circle cx="357.4" cy="245.7" r="3.8"/><circle cx="358.8" cy="248.6" r="3.8"/><circle cx="371.4" cy="245.7" r="3.8"/><circle cx="350" cy="253" r="3.8"/><circle cx="359.6" cy="256" r="3.8"/><circle cx="337" cy="20" r="3.8"/><circle cx="350" cy="18" r="3.8"/></g><text x="3.5" y="286.3" class="pl">b</text><rect x="277.3" y="293" width="57.7" height="228" fill="url(#chk)"/><rect x="308" y="293" width="26.6" height="93" fill="#fff"/><rect x="278.8" y="294" width="55.2" height="226" fill="none" stroke="#1fa98b" stroke-width="3"/><rect x="308" y="294.5" width="25" height="91" fill="#fff"/><text transform="translate(317,307) rotate(90)" style="font-size:11.7px;font-weight:bold;fill:#1fa98b">Membrane</text><polyline points="51.8,388.2 60.9,388.2 69.9,388.2 79,388.2 88,388.2 97.1,388.2 106.1,388.2 115.2,388.2 124.2,388.2 133.3,388.6 142.4,387.8 151.4,386.9 160.5,386.7 169.5,388.6 178.6,385.9 187.6,385.7 196.7,383.8 205.8,381.1 214.8,397.4 223.9,391.3 232.9,396.7 242,400.8 251,388.8 260.1,361.2 269.1,400.1 278.2,396.3 287.3,396.3 296.3,358.9 305.4,390.2 314.4,400.8 323.5,390.2 332.5,396.9" fill="none" stroke="#22aa8f" stroke-width="1.5" stroke-linejoin="round"/><path d="M51.8 388.2h0M60.9 388.2h0M69.9 388.2h0M79 388.2h0M88 388.2h0M97.1 388.2h0M106.1 388.2h0M115.2 388.2h0M124.2 388.2h0M133.3 388.6h0M142.4 387.8h0M151.4 386.9h0M160.5 386.7h0M169.5 388.6h0M178.6 385.9h0M187.6 385.7h0M196.7 383.8h0M205.8 381.1h0M214.8 397.4h0M223.9 391.3h0M232.9 396.7h0M242 400.8h0M251 388.8h0M260.1 361.2h0M269.1 400.1h0M278.2 396.3h0M287.3 396.3h0M296.3 358.9h0M305.4 390.2h0M314.4 400.8h0M323.5 390.2h0M332.5 396.9h0" stroke="#22aa8f" stroke-width="5.8" stroke-linecap="round"/><polyline points="51.8,426.2 60.9,426.2 69.9,426.2 79,426.2 88,426.2 97.1,426.2 106.1,426.2 115.2,426.2 124.2,426.2 133.3,427 142.4,425.8 151.4,424.7 160.5,425.1 169.5,427 178.6,423.3 187.6,424.2 196.7,422.4 205.8,416.5 214.8,445.6 223.9,438.9 232.9,444.6 242,449.6 251,436.7 260.1,405.3 269.1,448.1 278.2,445 287.3,443.5 296.3,411.1 305.4,438.4 314.4,448.5 323.5,440.1 332.5,445.6" fill="none" stroke="#ec6656" stroke-width="1.5" stroke-linejoin="round"/><path d="M51.8 426.2h0M60.9 426.2h0M69.9 426.2h0M79 426.2h0M88 426.2h0M97.1 426.2h0M106.1 426.2h0M115.2 426.2h0M124.2 426.2h0M133.3 427h0M142.4 425.8h0M151.4 424.7h0M160.5 425.1h0M169.5 427h0M178.6 423.3h0M187.6 424.2h0M196.7 422.4h0M205.8 416.5h0M214.8 445.6h0M223.9 438.9h0M232.9 444.6h0M242 449.6h0M251 436.7h0M260.1 405.3h0M269.1 448.1h0M278.2 445h0M287.3 443.5h0M296.3 411.1h0M305.4 438.4h0M314.4 448.5h0M323.5 440.1h0M332.5 445.6h0" stroke="#ec6656" stroke-width="5.8" stroke-linecap="round"/><polyline points="51.8,464.2 60.9,463.6 69.9,463.8 79,463.1 88,462.9 97.1,462.7 106.1,462 115.2,461.2 124.2,460.9 133.3,460.7 142.4,459.4 151.4,456.6 160.5,455.8 169.5,458.7 178.6,454.1 187.6,453.8 196.7,456.5 205.8,455.6 214.8,492.7 223.9,490.4 232.9,495.7 242,502.2 251,489.7 260.1,462.5 269.1,501.1 278.2,496.9 287.3,497.3 296.3,461.3 305.4,490.8 314.4,502.2 323.5,491.9 332.5,498" fill="none" stroke="#0f2167" stroke-width="1.5" stroke-linejoin="round"/><path d="M51.8 464.2h0M60.9 463.6h0M69.9 463.8h0M79 463.1h0M88 462.9h0M97.1 462.7h0M106.1 462h0M115.2 461.2h0M124.2 460.9h0M133.3 460.7h0M142.4 459.4h0M151.4 456.6h0M160.5 455.8h0M169.5 458.7h0M178.6 454.1h0M187.6 453.8h0M196.7 456.5h0M205.8 455.6h0M214.8 492.7h0M223.9 490.4h0M232.9 495.7h0M242 502.2h0M251 489.7h0M260.1 462.5h0M269.1 501.1h0M278.2 496.9h0M287.3 497.3h0M296.3 461.3h0M305.4 490.8h0M314.4 502.2h0M323.5 491.9h0M332.5 498h0" stroke="#0f2167" stroke-width="5.8" stroke-linecap="round"/><text x="172" y="378" style="font-size:12px;fill:#22aa8f">+20</text><text x="172" y="419.2" style="font-size:12px;fill:#ec6656">+10</text><rect x="51.8" y="293" width="283.2" height="228" fill="none" stroke="#222" stroke-width="1.3"/><path d="M51.8 502.2h-4.5" stroke="#222" stroke-width="1.3"/><text x="44.5" y="506.8" text-anchor="end" class="tk">-10</text><path d="M51.8 464.2h-4.5" stroke="#222" stroke-width="1.3"/><text x="44.5" y="468.8" text-anchor="end" class="tk">0</text><path d="M51.8 426.2h-4.5" stroke="#222" stroke-width="1.3"/><text x="44.5" y="430.8" text-anchor="end" class="tk">10</text><path d="M51.8 388.2h-4.5" stroke="#222" stroke-width="1.3"/><text x="44.5" y="392.8" text-anchor="end" class="tk">20</text><path d="M51.8 350.2h-4.5" stroke="#222" stroke-width="1.3"/><text x="44.5" y="354.8" text-anchor="end" class="tk">30</text><path d="M51.8 312.2h-4.5" stroke="#222" stroke-width="1.3"/><text x="44.5" y="316.8" text-anchor="end" class="tk">40</text><path d="M51.8 521.2h-2.5" stroke="#222" stroke-width="1.3"/><path d="M51.8 483.2h-2.5" stroke="#222" stroke-width="1.3"/><path d="M51.8 445.2h-2.5" stroke="#222" stroke-width="1.3"/><path d="M51.8 407.2h-2.5" stroke="#222" stroke-width="1.3"/><path d="M51.8 369.2h-2.5" stroke="#222" stroke-width="1.3"/><path d="M51.8 331.2h-2.5" stroke="#222" stroke-width="1.3"/><path d="M51.8 293.2h-2.5" stroke="#222" stroke-width="1.3"/><path d="M51.8 521v4.5" stroke="#222" stroke-width="1.3"/><text x="51.8" y="540.5" text-anchor="middle" class="tk">-2.0</text><path d="M108.4 521v4.5" stroke="#222" stroke-width="1.3"/><text x="108.4" y="540.5" text-anchor="middle" class="tk">-1.5</text><path d="M165 521v4.5" stroke="#222" stroke-width="1.3"/><text x="165" y="540.5" text-anchor="middle" class="tk">-1.0</text><path d="M221.6 521v4.5" stroke="#222" stroke-width="1.3"/><text x="221.6" y="540.5" text-anchor="middle" class="tk">-0.5</text><path d="M278.2 521v4.5" stroke="#222" stroke-width="1.3"/><text x="278.2" y="540.5" text-anchor="middle" class="tk">0.0</text><path d="M334.8 521v4.5" stroke="#222" stroke-width="1.3"/><text x="334.8" y="540.5" text-anchor="middle" class="tk">0.5</text><path d="M80.1 521v2.5" stroke="#222" stroke-width="1.3"/><path d="M136.7 521v2.5" stroke="#222" stroke-width="1.3"/><path d="M193.3 521v2.5" stroke="#222" stroke-width="1.3"/><path d="M249.9 521v2.5" stroke="#222" stroke-width="1.3"/><path d="M306.5 521v2.5" stroke="#222" stroke-width="1.3"/><rect x="55.6" y="296.7" width="99.6" height="73.4" fill="#fff" stroke="#666" stroke-width="1"/><path d="M56.4 312.7H83.7" stroke="#0f2167" stroke-width="2"/><circle cx="70" cy="312.7" r="2.75" fill="#0f2167"/><text x="87.5" y="317.3" style="font-size:15px;font-weight:bold;fill:#0f2167">0.5M Na<tspan dy="-6" style="font-size:12px">+</tspan></text><path d="M56.4 337H83.7" stroke="#ec6656" stroke-width="2"/><circle cx="70" cy="337" r="2.75" fill="#ec6656"/><text x="87.5" y="341.6" style="font-size:15px;font-weight:bold;fill:#ec6656">2.0M Na<tspan dy="-6" style="font-size:12px">+</tspan></text><path d="M56.4 361.3H83.7" stroke="#22aa8f" stroke-width="2"/><circle cx="70" cy="361.3" r="2.75" fill="#22aa8f"/><text x="87.5" y="365.9" style="font-size:15px;font-weight:bold;fill:#22aa8f">5.0M Na<tspan dy="-6" style="font-size:12px">+</tspan></text><text transform="translate(16.2,406.6) rotate(-90)" text-anchor="middle" class="tt" style="font-size:15.5px">Na<tspan dy="-6" style="font-size:12px">+</tspan><tspan dy="6"> PMF (kJ mol</tspan><tspan dy="-6" style="font-size:12px">-1</tspan><tspan dy="6">)</tspan></text><text x="193.9" y="565.5" text-anchor="middle" class="tt">Distance (nm)</text><text x="3.5" y="575" class="pl">c</text><rect x="277.3" y="590.2" width="59" height="229.2" fill="url(#chk)"/><rect x="278.8" y="591.7" width="56" height="226.2" fill="none" stroke="#1fa98b" stroke-width="3"/><rect x="308" y="593.2" width="25.3" height="84.5" fill="#fff"/><text transform="translate(317,606.5) rotate(90)" style="font-size:11.7px;font-weight:bold;fill:#1fa98b">Membrane</text><polyline points="51.8,688.4 60.9,688.4 69.9,688.4 79,688.4 88,688.4 97.1,688.4 106.1,688.4 115.2,688.4 124.2,688.4 133.3,688.4 142.4,688.4 151.4,688.4 160.5,688.4 169.5,688.8 178.6,691 187.6,690.7 196.7,680 205.8,688.6 214.8,679.5 223.9,680.5 232.9,690.4 242,658.1 251,656.3 260.1,654.1 269.1,607.4" fill="none" stroke="#22aa8f" stroke-width="1.5" stroke-linejoin="round"/><path d="M51.8 688.4h0M60.9 688.4h0M69.9 688.4h0M79 688.4h0M88 688.4h0M97.1 688.4h0M106.1 688.4h0M115.2 688.4h0M124.2 688.4h0M133.3 688.4h0M142.4 688.4h0M151.4 688.4h0M160.5 688.4h0M169.5 688.8h0M178.6 691h0M187.6 690.7h0M196.7 680h0M205.8 688.6h0M214.8 679.5h0M223.9 680.5h0M232.9 690.4h0M242 658.1h0M251 656.3h0M260.1 654.1h0M269.1 607.4h0" stroke="#22aa8f" stroke-width="5.8" stroke-linecap="round"/><polyline points="51.8,721.2 60.9,721.2 69.9,721.2 79,721.2 88,721.2 97.1,721.2 106.1,721.2 115.2,721.2 124.2,721.2 133.3,721.4 142.4,722 151.4,722.9 160.5,723.6 169.5,726 178.6,729.5 187.6,729.4 196.7,718.9 205.8,728 214.8,719.2 223.9,723.8 232.9,731.4 242,701.8 251,695.6 260.1,689.7 269.1,644.2" fill="none" stroke="#ec6656" stroke-width="1.5" stroke-linejoin="round"/><path d="M51.8 721.2h0M60.9 721.2h0M69.9 721.2h0M79 721.2h0M88 721.2h0M97.1 721.2h0M106.1 721.2h0M115.2 721.2h0M124.2 721.2h0M133.3 721.4h0M142.4 722h0M151.4 722.9h0M160.5 723.6h0M169.5 726h0M178.6 729.5h0M187.6 729.4h0M196.7 718.9h0M205.8 728h0M214.8 719.2h0M223.9 723.8h0M232.9 731.4h0M242 701.8h0M251 695.6h0M260.1 689.7h0M269.1 644.2h0" stroke="#ec6656" stroke-width="5.8" stroke-linecap="round"/><polyline points="51.8,787.1 60.9,787.1 69.9,787.4 79,787.6 88,787.8 97.1,788 106.1,788.4 115.2,789.1 124.2,789.7 133.3,790.6 142.4,791.7 151.4,793.1 160.5,793.7 169.5,796.3 178.6,800.5 187.6,797.2 196.7,788.4 205.8,783.9 214.8,777.2 223.9,793.5 232.9,800.9 242,772 251,747 260.1,712.8" fill="none" stroke="#0f2167" stroke-width="1.5" stroke-linejoin="round"/><path d="M51.8 787.1h0M60.9 787.1h0M69.9 787.4h0M79 787.6h0M88 787.8h0M97.1 788h0M106.1 788.4h0M115.2 789.1h0M124.2 789.7h0M133.3 790.6h0M142.4 791.7h0M151.4 793.1h0M160.5 793.7h0M169.5 796.3h0M178.6 800.5h0M187.6 797.2h0M196.7 788.4h0M205.8 783.9h0M214.8 777.2h0M223.9 793.5h0M232.9 800.9h0M242 772h0M251 747h0M260.1 712.8h0" stroke="#0f2167" stroke-width="5.8" stroke-linecap="round"/><path d="M238.6 809 C250 775, 263 738, 268.5 700 S273.8 630, 275 592" fill="none" stroke="#333" stroke-width="2.6" stroke-dasharray="6.5 3.5"/><text x="171.5" y="682" style="font-size:12px;fill:#22aa8f">+30</text><text x="171.5" y="717" style="font-size:12px;fill:#ec6656">+20</text><path d="M51.8 819.4V590.2H277.3" fill="none" stroke="#222" stroke-width="1.3"/><path d="M51.8 819.4H277.3" stroke="#222" stroke-width="1.3"/><path d="M51.8 819.5h-4.5" stroke="#222" stroke-width="1.3"/><text x="44.5" y="824.1" text-anchor="end" class="tk">-10</text><path d="M51.8 786.7h-4.5" stroke="#222" stroke-width="1.3"/><text x="44.5" y="791.3" text-anchor="end" class="tk">0</text><path d="M51.8 753.9h-4.5" stroke="#222" stroke-width="1.3"/><text x="44.5" y="758.5" text-anchor="end" class="tk">10</text><path d="M51.8 721.2h-4.5" stroke="#222" stroke-width="1.3"/><text x="44.5" y="725.8" text-anchor="end" class="tk">20</text><path d="M51.8 688.4h-4.5" stroke="#222" stroke-width="1.3"/><text x="44.5" y="693" text-anchor="end" class="tk">30</text><path d="M51.8 655.6h-4.5" stroke="#222" stroke-width="1.3"/><text x="44.5" y="660.2" text-anchor="end" class="tk">40</text><path d="M51.8 622.9h-4.5" stroke="#222" stroke-width="1.3"/><text x="44.5" y="627.5" text-anchor="end" class="tk">50</text><path d="M51.8 590.1h-4.5" stroke="#222" stroke-width="1.3"/><text x="44.5" y="594.7" text-anchor="end" class="tk">60</text><path d="M51.8 803.1h-2.5" stroke="#222" stroke-width="1.3"/><path d="M51.8 770.3h-2.5" stroke="#222" stroke-width="1.3"/><path d="M51.8 737.5h-2.5" stroke="#222" stroke-width="1.3"/><path d="M51.8 704.8h-2.5" stroke="#222" stroke-width="1.3"/><path d="M51.8 672h-2.5" stroke="#222" stroke-width="1.3"/><path d="M51.8 639.2h-2.5" stroke="#222" stroke-width="1.3"/><path d="M51.8 606.5h-2.5" stroke="#222" stroke-width="1.3"/><path d="M51.8 819.4v4.5" stroke="#222" stroke-width="1.3"/><text x="51.8" y="839" text-anchor="middle" class="tk">-2.0</text><path d="M108.4 819.4v4.5" stroke="#222" stroke-width="1.3"/><text x="108.4" y="839" text-anchor="middle" class="tk">-1.5</text><path d="M165 819.4v4.5" stroke="#222" stroke-width="1.3"/><text x="165" y="839" text-anchor="middle" class="tk">-1.0</text><path d="M221.6 819.4v4.5" stroke="#222" stroke-width="1.3"/><text x="221.6" y="839" text-anchor="middle" class="tk">-0.5</text><path d="M278.2 819.4v4.5" stroke="#222" stroke-width="1.3"/><text x="278.2" y="839" text-anchor="middle" class="tk">0.0</text><path d="M334.8 819.4v4.5" stroke="#222" stroke-width="1.3"/><text x="334.8" y="839" text-anchor="middle" class="tk">0.5</text><path d="M80.1 819.4v2.5" stroke="#222" stroke-width="1.3"/><path d="M136.7 819.4v2.5" stroke="#222" stroke-width="1.3"/><path d="M193.3 819.4v2.5" stroke="#222" stroke-width="1.3"/><path d="M249.9 819.4v2.5" stroke="#222" stroke-width="1.3"/><path d="M306.5 819.4v2.5" stroke="#222" stroke-width="1.3"/><rect x="55.6" y="594.4" width="91.1" height="73.4" fill="#fff" stroke="#666" stroke-width="1"/><path d="M56.4 610.5H83.7" stroke="#0f2167" stroke-width="2"/><circle cx="70" cy="610.5" r="2.75" fill="#0f2167"/><text x="87.5" y="615.1" style="font-size:15px;font-weight:bold;fill:#0f2167">0.5M Cl<tspan dy="-6" style="font-size:12px">-</tspan></text><path d="M56.4 634.8H83.7" stroke="#ec6656" stroke-width="2"/><circle cx="70" cy="634.8" r="2.75" fill="#ec6656"/><text x="87.5" y="639.4" style="font-size:15px;font-weight:bold;fill:#ec6656">2.0M Cl<tspan dy="-6" style="font-size:12px">-</tspan></text><path d="M56.4 659H83.7" stroke="#22aa8f" stroke-width="2"/><circle cx="70" cy="659" r="2.75" fill="#22aa8f"/><text x="87.5" y="663.6" style="font-size:15px;font-weight:bold;fill:#22aa8f">5.0M Cl<tspan dy="-6" style="font-size:12px">-</tspan></text><text transform="translate(16,704) rotate(-90)" text-anchor="middle" class="tt" style="font-size:15.5px">Cl<tspan dy="-6" style="font-size:12px">-</tspan><tspan dy="6"> PMF (kJ mol</tspan><tspan dy="-6" style="font-size:12px">-1</tspan><tspan dy="6">)</tspan></text><text x="193.9" y="864" text-anchor="middle" class="tt">Distance (nm)</text><defs><clipPath id="cd"><rect x="388.5" y="292.8" width="283.79999999999995" height="228.59999999999997"/></clipPath><clipPath id="ce"><rect x="388.8" y="591.2" width="283.59999999999997" height="228.5999999999999"/></clipPath></defs><text x="355.6" y="290" class="pl">d</text><g clip-path="url(#cd)"><path d="M402 521.4L402.27 506.16L402.54 506.16L402.81 490.92L403.08 490.92L403.35 475.68L403.62 460.44L403.89 475.68L404.16 460.44L404.43 445.2L404.7 445.2M405.78 384.24L406.05 399.48L406.32 399.48L406.59 384.24L406.86 384.24L407.13 384.24L407.4 369L407.67 369L407.94 353.76L408.21 369L408.48 414.72L408.75 399.48L409.01 414.72L409.28 399.48L409.55 384.24L409.82 384.24L410.09 399.48L410.36 399.48L410.63 384.24L410.9 384.24L411.17 369L411.44 369L411.71 369L411.98 369L412.25 369L412.52 353.76L412.79 369L413.06 353.76L413.33 353.76L413.6 353.76L413.87 369L414.14 369L414.41 384.24L414.68 369L414.95 384.24L415.22 369L415.49 369L415.76 399.48L416.03 384.24L416.3 369L416.57 384.24L416.84 369L417.11 384.24L417.38 384.24L417.65 384.24L417.92 384.24L418.19 399.48L418.46 399.48L418.73 384.24L419 369L419.27 384.24L419.54 399.48L419.81 399.48L420.08 399.48L420.35 384.24L420.62 414.72L420.89 399.48L421.16 414.72L421.43 399.48L421.7 384.24L421.97 399.48L422.24 384.24L422.5 384.24L422.77 384.24L423.04 384.24L423.31 414.72L423.58 414.72L423.85 384.24L424.12 399.48L424.39 414.72L424.66 414.72L424.93 429.96L425.2 384.24L425.47 384.24L425.74 399.48L426.01 384.24L426.28 384.24L426.55 399.48L426.82 399.48L427.09 414.72L427.36 414.72L427.63 429.96L427.9 445.2L428.17 429.96L428.44 429.96L428.71 414.72L428.98 414.72L429.25 445.2L429.52 429.96L429.79 429.96L430.06 445.2L430.33 429.96L430.6 414.72L430.87 429.96L431.14 445.2L431.41 399.48L431.68 414.72L431.95 384.24L432.22 384.24L432.49 399.48L432.76 384.24L433.03 399.48L433.3 384.24L433.57 399.48L433.84 384.24L434.11 384.24L434.38 384.24L434.65 414.72L434.92 429.96L435.19 414.72L435.46 414.72L435.73 414.72L435.99 414.72L436.26 429.96L436.53 445.2L436.8 414.72L437.07 445.2L437.34 414.72L437.61 414.72L437.88 429.96L438.15 414.72L438.42 399.48L438.69 384.24L438.96 399.48L439.23 399.48L439.5 399.48L439.77 399.48L440.04 384.24L440.31 414.72L440.58 414.72L440.85 414.72L441.12 399.48L441.39 414.72L441.66 399.48L441.93 384.24L442.2 399.48L442.47 384.24L442.74 369L443.01 384.24L443.28 369L443.55 384.24L443.82 399.48L444.09 369L444.36 414.72L444.63 399.48L444.9 414.72L445.17 414.72L445.44 414.72L445.71 414.72L445.98 399.48L446.25 399.48L446.52 399.48L446.79 399.48L447.06 399.48L447.33 384.24L447.6 399.48L447.87 399.48L448.14 399.48L448.41 414.72L448.68 414.72L448.95 399.48L449.21 414.72L449.48 399.48L449.75 399.48L450.02 414.72L450.29 399.48L450.56 414.72L450.83 414.72L451.1 399.48L451.37 414.72L451.64 414.72L451.91 414.72L452.18 414.72L452.45 414.72L452.72 414.72L452.99 399.48L453.26 399.48L453.53 414.72L453.8 414.72L454.07 414.72L454.34 399.48L454.61 414.72L454.88 414.72L455.15 414.72L455.42 399.48L455.69 399.48L455.96 414.72L456.23 414.72L456.5 429.96L456.77 429.96L457.04 429.96L457.31 429.96L457.58 399.48L457.85 399.48L458.12 429.96L458.39 414.72L458.66 399.48L458.93 399.48L459.2 414.72L459.47 414.72L459.74 399.48L460.01 399.48L460.28 399.48L460.55 414.72L460.82 399.48L461.09 399.48L461.36 414.72L461.63 414.72L461.9 429.96L462.17 429.96L462.44 429.96L462.7 429.96L462.97 414.72L463.24 414.72L463.51 429.96L463.78 429.96L464.05 429.96L464.32 414.72L464.59 429.96L464.86 414.72L465.13 429.96L465.4 414.72L465.67 429.96L465.94 414.72L466.21 399.48L466.48 414.72L466.75 399.48L467.02 384.24L467.29 399.48L467.56 384.24L467.83 399.48L468.1 399.48L468.37 414.72L468.64 414.72L468.91 429.96L469.18 429.96L469.45 429.96L469.72 414.72L469.99 399.48L470.26 399.48L470.53 414.72L470.8 399.48L471.07 414.72L471.34 399.48L471.61 384.24L471.88 384.24L472.15 369L472.42 384.24L472.69 384.24L472.96 399.48L473.23 399.48L473.5 414.72L473.77 399.48L474.04 384.24L474.31 369L474.58 384.24L474.85 384.24L475.12 384.24L475.39 429.96L475.66 414.72L475.93 414.72L476.19 399.48L476.46 414.72L476.73 429.96L477 414.72L477.27 414.72L477.54 429.96L477.81 429.96L478.08 414.72L478.35 414.72L478.62 414.72L478.89 429.96L479.16 414.72L479.43 414.72L479.7 429.96L479.97 429.96L480.24 414.72L480.51 414.72L480.78 429.96L481.05 429.96L481.32 414.72L481.59 429.96L481.86 414.72L482.13 429.96L482.4 429.96L482.67 414.72L482.94 429.96L483.21 429.96L483.48 414.72L483.75 414.72L484.02 429.96L484.29 414.72L484.56 429.96L484.83 429.96L485.1 414.72L485.37 414.72L485.64 414.72L485.91 429.96L486.18 445.2L486.45 429.96L486.72 414.72L486.99 414.72L487.26 429.96L487.53 399.48L487.8 399.48L488.07 414.72L488.34 429.96L488.61 429.96L488.88 429.96L489.15 414.72L489.42 414.72L489.69 399.48L489.95 399.48L490.22 414.72L490.49 414.72L490.76 399.48L491.03 399.48L491.3 399.48L491.57 399.48L491.84 414.72L492.11 399.48L492.38 429.96L492.65 414.72L492.92 414.72L493.19 399.48L493.46 399.48L493.73 399.48L494 399.48L494.27 414.72L494.54 399.48L494.81 414.72L495.08 429.96L495.35 414.72L495.62 429.96L495.89 414.72L496.16 399.48L496.43 399.48L496.7 399.48L496.97 414.72L497.24 399.48L497.51 353.76L497.78 369L498.05 369L498.32 369L498.59 369L498.86 369L499.13 384.24L499.4 384.24L499.67 414.72L499.94 399.48L500.21 384.24L500.48 369L500.75 369L501.02 369L501.29 384.24L501.56 414.72L501.83 399.48L502.1 384.24L502.37 384.24L502.64 369L502.91 369L503.18 369L503.44 384.24L503.71 399.48L503.98 384.24L504.25 369L504.52 369L504.79 384.24L505.06 414.72L505.33 399.48L505.6 414.72L505.87 414.72L506.14 369L506.41 384.24L506.68 384.24L506.95 399.48L507.22 384.24L507.49 399.48L507.76 384.24L508.03 399.48L508.3 384.24L508.57 399.48L508.84 384.24L509.11 369L509.38 369L509.65 384.24L509.92 369L510.19 384.24L510.46 384.24L510.73 384.24L511 369L511.27 384.24L511.54 369L511.81 384.24L512.08 369L512.35 384.24L512.62 384.24L512.89 384.24L513.16 369L513.43 369L513.7 369L513.97 369L514.24 384.24L514.51 369L514.78 369L515.05 384.24L515.32 369L515.59 369L515.86 384.24L516.13 384.24L516.4 384.24L516.66 369L516.93 384.24L517.2 399.48L517.47 384.24L517.74 369L518.01 399.48L518.28 399.48L518.55 414.72L518.82 399.48L519.09 384.24L519.36 369L519.63 384.24L519.9 429.96L520.17 414.72L520.44 414.72L520.71 414.72L520.98 414.72L521.25 399.48L521.52 384.24L521.79 414.72L522.06 429.96L522.33 429.96L522.6 414.72L522.87 429.96L523.14 414.72L523.41 399.48L523.68 384.24L523.95 384.24L524.22 384.24L524.49 399.48L524.76 384.24L525.03 399.48L525.3 399.48L525.57 399.48L525.84 399.48L526.11 414.72L526.38 399.48L526.65 384.24L526.92 399.48L527.19 399.48L527.46 414.72L527.73 399.48L528 399.48L528.27 414.72L528.54 399.48L528.81 414.72L529.08 414.72L529.35 399.48L529.62 414.72L529.89 414.72L530.15 414.72L530.42 399.48L530.69 414.72L530.96 399.48L531.23 414.72L531.5 414.72L531.77 399.48L532.04 414.72L532.31 399.48L532.58 414.72L532.85 399.48L533.12 414.72L533.39 399.48L533.66 399.48L533.93 399.48L534.2 399.48L534.47 399.48L534.74 399.48L535.01 399.48L535.28 399.48L535.55 399.48L535.82 399.48L536.09 399.48L536.36 399.48L536.63 399.48L536.9 384.24L537.17 384.24L537.44 384.24L537.71 399.48L537.98 399.48L538.25 399.48L538.52 399.48L538.79 399.48L539.06 399.48L539.33 399.48L539.6 399.48L539.87 399.48L540.14 399.48L540.41 399.48L540.68 399.48L540.95 399.48L541.22 399.48L541.49 414.72L541.76 414.72L542.03 399.48L542.3 414.72L542.57 399.48L542.84 414.72L543.11 399.48L543.38 399.48L543.64 399.48L543.91 399.48L544.18 399.48L544.45 399.48L544.72 399.48L544.99 384.24L545.26 399.48L545.53 399.48L545.8 399.48L546.07 384.24L546.34 384.24L546.61 384.24L546.88 399.48L547.15 399.48L547.42 399.48L547.69 399.48L547.96 384.24L548.23 399.48L548.5 384.24L548.77 399.48L549.04 399.48L549.31 399.48L549.58 384.24L549.85 384.24L550.12 399.48L550.39 399.48L550.66 384.24L550.93 399.48L551.2 384.24L551.47 399.48L551.74 384.24L552.01 399.48L552.28 399.48L552.55 384.24L552.82 384.24L553.09 399.48L553.36 384.24L553.63 399.48L553.9 384.24L554.17 369L554.44 369L554.71 384.24L554.98 369L555.25 369L555.52 384.24L555.79 384.24L556.06 384.24L556.33 369L556.6 353.76L556.87 369L557.13 369L557.4 384.24L557.67 384.24L557.94 369L558.21 384.24L558.48 369L558.75 384.24L559.02 369L559.29 353.76L559.56 369L559.83 369L560.1 369L560.37 384.24L560.64 353.76L560.91 369L561.18 384.24L561.45 369L561.72 384.24L561.99 369L562.26 353.76L562.53 369L562.8 369L563.07 369L563.34 384.24L563.61 369L563.88 353.76L564.15 369L564.42 384.24L564.69 384.24L564.96 384.24L565.23 353.76L565.5 353.76L565.77 369L566.04 369L566.31 369L566.58 353.76L566.85 369L567.12 369L567.39 384.24L567.66 369L567.93 384.24L568.2 369L568.47 353.76L568.74 369L569.01 353.76L569.28 384.24L569.55 369L569.82 353.76L570.09 353.76L570.36 369L570.62 384.24L570.89 384.24L571.16 369L571.43 384.24L571.7 369L571.97 384.24L572.24 384.24L572.51 369L572.78 369L573.05 384.24L573.32 369L573.59 384.24L573.86 369L574.13 384.24L574.4 399.48L574.67 384.24L574.94 369L575.21 384.24L575.48 384.24L575.75 369L576.02 369L576.29 369L576.56 384.24L576.83 369L577.1 384.24L577.37 414.72L577.64 399.48L577.91 399.48L578.18 384.24L578.45 384.24L578.72 369L578.99 384.24L579.26 399.48L579.53 399.48L579.8 384.24L580.07 384.24L580.34 384.24L580.61 369L580.88 399.48L581.15 399.48L581.42 384.24L581.69 369L581.96 353.76L582.23 369L582.5 353.76L582.77 369L583.04 384.24L583.31 369L583.58 353.76L583.85 369L584.12 399.48L584.38 384.24L584.65 369L584.92 353.76L585.19 369L585.46 369L585.73 353.76L586 369L586.27 369L586.54 369L586.81 369L587.08 369L587.35 384.24L587.62 399.48L587.89 399.48L588.16 384.24L588.43 369L588.7 369L588.97 353.76L589.24 369L589.51 384.24L589.78 369L590.05 353.76L590.32 353.76L590.59 353.76L590.86 369L591.13 384.24L591.4 384.24L591.67 369L591.94 369L592.21 353.76L592.48 369L592.75 353.76L593.02 399.48L593.29 384.24L593.56 399.48L593.83 384.24L594.1 353.76L594.37 353.76L594.64 369L594.91 353.76L595.18 353.76L595.45 369L595.72 384.24L595.99 414.72L596.26 399.48L596.53 399.48L596.8 384.24L597.07 369L597.34 353.76L597.61 369L597.87 353.76L598.14 384.24L598.41 369L598.68 399.48L598.95 384.24L599.22 369L599.49 353.76L599.76 369L600.03 353.76L600.3 369L600.57 384.24L600.84 399.48L601.11 384.24L601.38 399.48L601.65 369L601.92 384.24L602.19 369L602.46 369L602.73 384.24L603 369L603.27 384.24L603.54 369L603.81 384.24L604.08 384.24L604.35 399.48L604.62 384.24L604.89 399.48L605.16 384.24L605.43 399.48L605.7 384.24L605.97 399.48L606.24 384.24L606.51 384.24L606.78 399.48L607.05 384.24L607.32 399.48L607.59 384.24L607.86 399.48L608.13 384.24L608.4 384.24L608.67 399.48L608.94 384.24L609.21 384.24L609.48 369L609.75 384.24L610.02 369L610.29 384.24L610.56 369L610.83 384.24L611.1 369L611.36 384.24L611.63 384.24L611.9 369L612.17 369L612.44 369L612.71 369L612.98 369L613.25 384.24L613.52 369L613.79 369L614.06 369L614.33 369L614.6 369L614.87 384.24L615.14 369L615.41 369L615.68 353.76L615.95 369L616.22 353.76L616.49 369L616.76 369L617.03 353.76L617.3 353.76L617.57 384.24L617.84 399.48L618.11 369L618.38 353.76L618.65 369L618.92 384.24L619.19 384.24L619.46 399.48L619.73 384.24L620 353.76L620.27 353.76L620.54 353.76L620.81 414.72L621.08 384.24L621.35 369L621.62 353.76L621.89 369L622.16 369L622.43 369L622.7 369L622.97 353.76L623.24 353.76L623.51 384.24L623.78 384.24L624.05 399.48L624.32 399.48L624.59 384.24L624.85 399.48L625.12 399.48L625.39 399.48L625.66 414.72L625.93 414.72L626.2 399.48L626.47 399.48L626.74 414.72L627.01 399.48L627.28 384.24L627.55 429.96L627.82 429.96L628.09 429.96L628.36 429.96L628.63 369L628.9 384.24L629.17 369L629.44 384.24L629.71 399.48L629.98 384.24L630.25 399.48L630.52 384.24L630.79 384.24L631.06 384.24L631.33 369L631.6 384.24L631.87 399.48L632.14 384.24L632.41 384.24L632.68 369L632.95 384.24L633.22 399.48L633.49 384.24L633.76 384.24L634.03 384.24L634.3 369L634.57 399.48L634.84 399.48L635.11 414.72L635.38 414.72L635.65 399.48L635.92 384.24L636.19 384.24L636.46 384.24L636.73 369L637 414.72L637.27 399.48L637.54 384.24L637.81 399.48L638.08 399.48L638.34 384.24L638.61 399.48L638.88 399.48L639.15 399.48L639.42 384.24L639.69 399.48L639.96 399.48L640.23 369L640.5 353.76L640.77 369L641.04 384.24L641.31 399.48L641.58 384.24L641.85 384.24L642.12 399.48L642.39 384.24L642.66 384.24L642.93 399.48L643.2 384.24L643.47 399.48L643.74 384.24L644.01 399.48L644.28 384.24L644.55 399.48L644.82 384.24L645.09 369L645.36 384.24L645.63 369L645.9 384.24L646.17 369L646.44 414.72L646.71 399.48L646.98 399.48L647.25 414.72L647.52 399.48L647.79 384.24L648.06 384.24L648.33 369L648.6 384.24L648.87 369L649.14 369L649.41 384.24L649.68 399.48L649.95 399.48L650.22 384.24L650.49 369L650.76 399.48L651.03 384.24L651.3 384.24L651.57 384.24L651.83 384.24L652.1 369L652.37 369L652.64 384.24L652.91 384.24L653.18 369L653.45 384.24L653.72 399.48L653.99 384.24L654.26 353.76L654.53 369L654.8 384.24L655.07 399.48L655.34 384.24L655.61 384.24L655.88 369L656.15 399.48L656.42 399.48L656.69 399.48L656.96 384.24L657.23 384.24L657.5 384.24L657.77 399.48L658.04 399.48L658.31 399.48L658.58 384.24L658.85 384.24L659.12 384.24L659.39 399.48L659.66 384.24L659.93 399.48L660.2 384.24L660.47 369L660.74 384.24L661.01 399.48L661.28 399.48L661.55 399.48L661.82 414.72L662.09 399.48L662.36 384.24L662.63 399.48L662.9 414.72L663.17 369L663.44 369L663.71 414.72L663.98 369L664.25 384.24L664.52 369L664.79 384.24L665.06 399.48L665.32 384.24L665.59 414.72L665.86 399.48L666.13 369L666.4 353.76L666.67 369L666.94 369L667.21 399.48L667.48 384.24L667.75 399.48L668.02 414.72L668.29 399.48L668.56 414.72L668.83 399.48L669.1 384.24L669.37 369L669.64 369L669.91 384.24L670.18 399.48L670.45 384.24L670.72 399.48L670.99 384.24L671.26 384.24L671.53 369L671.8 369" fill="none" stroke="#0f2167" stroke-width="0.75" stroke-opacity="0.65"/><path d="M407.95 353.76H414.94M464.86 353.76h0M497.24 353.76h0M509.92 353.76h0M555.53 353.76H569.53M580.62 353.76H599.48M615.69 353.76H622.95M633.76 353.76h0M640.77 353.76h0M654.26 353.76h0M663.99 353.76H666.39M407.95 369H419.52M429.11 369h0M443.16 369H444.08M456.09 369h0M465.95 369H474.56M498.06 369H522.86M554.72 369H671.25M406.46 384.24H447.31M455.83 384.24h0M465.95 384.24H475.1M488.34 384.24h0M498.06 384.24H526.37M537.17 384.24h0M545.55 384.24H671.25M406.46 399.48H475.91M487.81 399.48H508.02M516.41 399.48H554.96M573.61 399.48H608.38M617.04 399.48H671.25M406.46 414.72H409M417.66 414.72H505.86M517.22 414.72H532.57M542.04 414.72H542.28M577.64 414.72h0M595.46 414.72H601.64M620.28 414.72H627.54M635.39 414.72H637.25M646.72 414.72H647.78M661.56 414.72H671.25M406.59 429.96h0M423.6 429.96H437.33M447.88 429.96H448.12M456.51 429.96H495.34M518.57 429.96H522.86M625.68 429.96H628.35M661.55 429.96h0M404.43 445.2h0M424.41 445.2H436.52M455.96 445.2h0M477 445.2h0M486.19 445.2H491.56M522.6 445.2h0M403.89 460.44h0M403.62 475.68h0M403.08 490.92h0M402.4 506.16h0M402 521.4h0" stroke="#0f2167" stroke-width="6.5" stroke-linecap="round"/></g><rect x="399.5" y="518.4" width="272.79999999999995" height="3" fill="#ec6656"/><rect x="388.5" y="292.8" width="283.79999999999995" height="228.59999999999997" fill="none" stroke="#222" stroke-width="1.3"/><path d="M388.5 521.4h-4.5" stroke="#222" stroke-width="1.3"/><text x="381" y="526" text-anchor="end" class="tk">0</text><path d="M388.5 445.2h-4.5" stroke="#222" stroke-width="1.3"/><text x="381" y="449.8" text-anchor="end" class="tk">5</text><path d="M388.5 369h-4.5" stroke="#222" stroke-width="1.3"/><text x="381" y="373.6" text-anchor="end" class="tk">10</text><path d="M388.5 292.8h-4.5" stroke="#222" stroke-width="1.3"/><text x="381" y="297.4" text-anchor="end" class="tk">15</text><path d="M388.5 483.3h-2.5" stroke="#222" stroke-width="1.3"/><path d="M388.5 407.1h-2.5" stroke="#222" stroke-width="1.3"/><path d="M388.5 330.9h-2.5" stroke="#222" stroke-width="1.3"/><path d="M402 521.4v4.5" stroke="#222" stroke-width="1.3"/><text x="402" y="541" text-anchor="middle" class="tk">0</text><path d="M455.96 521.4v4.5" stroke="#222" stroke-width="1.3"/><text x="455.96" y="541" text-anchor="middle" class="tk">20</text><path d="M509.92 521.4v4.5" stroke="#222" stroke-width="1.3"/><text x="509.92" y="541" text-anchor="middle" class="tk">40</text><path d="M563.88 521.4v4.5" stroke="#222" stroke-width="1.3"/><text x="563.88" y="541" text-anchor="middle" class="tk">60</text><path d="M617.84 521.4v4.5" stroke="#222" stroke-width="1.3"/><text x="617.84" y="541" text-anchor="middle" class="tk">80</text><path d="M671.8 521.4v4.5" stroke="#222" stroke-width="1.3"/><text x="671.8" y="541" text-anchor="middle" class="tk">100</text><path d="M428.98 521.4v2.5" stroke="#222" stroke-width="1.3"/><path d="M482.94 521.4v2.5" stroke="#222" stroke-width="1.3"/><path d="M536.9 521.4v2.5" stroke="#222" stroke-width="1.3"/><path d="M590.86 521.4v2.5" stroke="#222" stroke-width="1.3"/><path d="M644.82 521.4v2.5" stroke="#222" stroke-width="1.3"/><rect x="616.4" y="297.4" width="53.1" height="35" fill="#fff" stroke="#666" stroke-width="1"/><path d="M618.4 307.7H644.7" stroke="#0f2167" stroke-width="1" stroke-opacity="0.55"/><circle cx="631.4" cy="307.7" r="2.8" fill="#0f2167"/><text x="648.4" y="311.8" style="font-size:11.5px;font-weight:bold">Na<tspan dy="-4.5" style="font-size:8px">+</tspan></text><path d="M618.4 324.1H644.7" stroke="#ec6656" stroke-width="1" stroke-opacity="0.55"/><circle cx="631.4" cy="324.1" r="2.8" fill="#ec6656"/><text x="648.4" y="328.2" style="font-size:11.5px;font-weight:bold">Cl<tspan dy="-4.5" style="font-size:8px">-</tspan></text><text transform="translate(358.3,406.9) rotate(-90)" text-anchor="middle" class="tt">Ion Number</text><text x="530.8" y="566.2" text-anchor="middle" class="tt">Time (ns)</text><text x="355.9" y="575" class="pl">e</text><g clip-path="url(#ce)"><path d="M402.5 774.08L402.77 743.6L403.04 743.6M403.58 735.98L403.85 735.98L404.12 705.5L404.39 713.12L404.66 720.74L404.93 720.74L405.2 713.12L405.47 713.12L405.74 713.12L406.01 720.74L406.28 728.36L406.55 705.5L406.82 728.36L407.09 713.12L407.36 720.74L407.63 713.12L407.9 735.98L408.17 735.98L408.44 713.12L408.71 705.5L408.98 713.12L409.25 705.5L409.51 705.5L409.78 713.12L410.05 690.26L410.32 697.88L410.59 682.64L410.86 690.26L411.13 682.64L411.4 690.26L411.67 682.64L411.94 690.26L412.21 697.88L412.48 705.5L412.75 713.12L413.02 713.12L413.29 720.74L413.56 713.12L413.83 720.74L414.1 697.88L414.37 705.5L414.64 720.74L414.91 720.74L415.18 713.12L415.45 720.74L415.72 713.12L415.99 705.5L416.26 713.12L416.53 713.12L416.8 720.74L417.07 713.12L417.34 713.12L417.61 705.5L417.88 705.5L418.15 713.12L418.42 705.5L418.69 697.88L418.96 705.5L419.23 697.88L419.5 690.26L419.77 713.12L420.04 690.26L420.31 697.88L420.58 713.12L420.85 720.74L421.12 720.74L421.39 713.12L421.66 690.26L421.93 697.88L422.2 713.12L422.47 690.26L422.74 720.74L423 720.74L423.27 720.74L423.54 728.36L423.81 720.74L424.08 720.74L424.35 720.74L424.62 728.36L424.89 720.74L425.16 720.74L425.43 743.6L425.7 697.88L425.97 697.88L426.24 690.26L426.51 690.26L426.78 682.64L427.05 705.5L427.32 697.88L427.59 690.26L427.86 720.74L428.13 728.36L428.4 720.74L428.67 697.88L428.94 705.5L429.21 697.88L429.48 720.74L429.75 713.12L430.02 705.5L430.29 697.88L430.56 697.88L430.83 697.88L431.1 720.74L431.37 705.5L431.64 705.5L431.91 697.88L432.18 690.26L432.45 713.12L432.72 713.12L432.99 697.88L433.26 705.5L433.53 697.88L433.8 743.6L434.07 735.98L434.34 728.36L434.61 697.88L434.88 713.12L435.15 705.5L435.42 682.64L435.69 690.26L435.96 690.26L436.23 705.5L436.49 713.12L436.76 705.5L437.03 659.78L437.3 667.4L437.57 675.02L437.84 682.64L438.11 713.12L438.38 705.5L438.65 713.12L438.92 705.5L439.19 713.12L439.46 713.12L439.73 713.12L440 713.12L440.27 705.5L440.54 713.12L440.81 705.5L441.08 705.5L441.35 697.88L441.62 705.5L441.89 705.5L442.16 705.5L442.43 705.5L442.7 697.88L442.97 705.5L443.24 705.5L443.51 697.88L443.78 705.5L444.05 697.88L444.32 705.5L444.59 697.88L444.86 705.5L445.13 713.12L445.4 713.12L445.67 713.12L445.94 705.5L446.21 713.12L446.48 720.74L446.75 713.12L447.02 705.5L447.29 697.88L447.56 690.26L447.83 697.88L448.1 705.5L448.37 697.88L448.64 705.5L448.91 713.12L449.18 720.74L449.45 720.74L449.71 720.74L449.98 682.64L450.25 675.02L450.52 697.88L450.79 705.5L451.06 705.5L451.33 705.5L451.6 697.88L451.87 697.88L452.14 705.5L452.41 728.36L452.68 720.74L452.95 705.5L453.22 682.64L453.49 713.12L453.76 713.12L454.03 720.74L454.3 713.12L454.57 720.74L454.84 682.64L455.11 675.02L455.38 682.64L455.65 682.64L455.92 720.74L456.19 713.12L456.46 713.12L456.73 713.12L457 720.74L457.27 720.74L457.54 682.64L457.81 713.12L458.08 705.5L458.35 705.5L458.62 697.88L458.89 690.26L459.16 728.36L459.43 720.74L459.7 720.74L459.97 682.64L460.24 682.64L460.51 697.88L460.78 697.88L461.05 705.5L461.32 697.88L461.59 705.5L461.86 697.88L462.13 697.88L462.4 697.88L462.67 690.26L462.94 697.88L463.2 705.5L463.47 705.5L463.74 713.12L464.01 713.12L464.28 713.12L464.55 720.74L464.82 720.74L465.09 728.36L465.36 682.64L465.63 682.64L465.9 682.64L466.17 682.64L466.44 728.36L466.71 713.12L466.98 713.12L467.25 705.5L467.52 705.5L467.79 705.5L468.06 713.12L468.33 713.12L468.6 728.36L468.87 728.36L469.14 728.36L469.41 720.74L469.68 713.12L469.95 705.5L470.22 713.12L470.49 682.64L470.76 690.26L471.03 682.64L471.3 675.02L471.57 682.64L471.84 682.64L472.11 690.26L472.38 690.26L472.65 690.26L472.92 690.26L473.19 713.12L473.46 720.74L473.73 697.88L474 705.5L474.27 713.12L474.54 720.74L474.81 713.12L475.08 713.12L475.35 720.74L475.62 720.74L475.89 720.74L476.16 713.12L476.43 697.88L476.69 690.26L476.96 690.26L477.23 690.26L477.5 697.88L477.77 705.5L478.04 697.88L478.31 697.88L478.58 690.26L478.85 697.88L479.12 705.5L479.39 713.12L479.66 697.88L479.93 705.5L480.2 713.12L480.47 705.5L480.74 690.26L481.01 697.88L481.28 690.26L481.55 682.64L481.82 697.88L482.09 697.88L482.36 690.26L482.63 682.64L482.9 690.26L483.17 682.64L483.44 690.26L483.71 682.64L483.98 697.88L484.25 705.5L484.52 697.88L484.79 697.88L485.06 697.88L485.33 697.88L485.6 705.5L485.87 713.12L486.14 713.12L486.41 713.12L486.68 713.12L486.95 675.02L487.22 675.02L487.49 713.12L487.76 713.12L488.03 705.5L488.3 705.5L488.57 697.88L488.84 705.5L489.11 682.64L489.38 713.12L489.65 705.5L489.92 697.88L490.19 659.78L490.45 659.78L490.72 690.26L490.99 690.26L491.26 705.5L491.53 697.88L491.8 690.26L492.07 690.26L492.34 667.4L492.61 690.26L492.88 690.26L493.15 667.4L493.42 675.02L493.69 713.12L493.96 705.5L494.23 713.12L494.5 713.12L494.77 705.5L495.04 697.88L495.31 690.26L495.58 713.12L495.85 705.5L496.12 705.5L496.39 713.12L496.66 713.12L496.93 697.88L497.2 697.88L497.47 690.26L497.74 697.88L498.01 697.88L498.28 697.88L498.55 705.5L498.82 697.88L499.09 713.12L499.36 720.74L499.63 728.36L499.9 720.74L500.17 713.12L500.44 713.12L500.71 720.74L500.98 735.98L501.25 735.98L501.52 697.88L501.79 705.5L502.06 697.88L502.33 705.5L502.6 705.5L502.87 720.74L503.14 720.74L503.41 713.12L503.68 705.5L503.94 682.64L504.21 690.26L504.48 682.64L504.75 675.02L505.02 682.64L505.29 675.02L505.56 675.02L505.83 720.74L506.1 720.74L506.37 713.12L506.64 720.74L506.91 720.74L507.18 713.12L507.45 720.74L507.72 682.64L507.99 675.02L508.26 682.64L508.53 682.64L508.8 682.64L509.07 713.12L509.34 705.5L509.61 697.88L509.88 697.88L510.15 697.88L510.42 705.5L510.69 705.5L510.96 705.5L511.23 697.88L511.5 705.5L511.77 713.12L512.04 705.5L512.31 697.88L512.58 682.64L512.85 682.64L513.12 682.64L513.39 690.26L513.66 682.64L513.93 713.12L514.2 713.12L514.47 705.5L514.74 713.12L515.01 682.64L515.28 682.64L515.55 682.64L515.82 705.5L516.09 682.64L516.36 682.64L516.63 675.02L516.9 697.88L517.16 690.26L517.43 697.88L517.7 675.02L517.97 675.02L518.24 682.64L518.51 690.26L518.78 690.26L519.05 690.26L519.32 682.64L519.59 690.26L519.86 690.26L520.13 697.88L520.4 690.26L520.67 682.64L520.94 690.26L521.21 682.64L521.48 713.12L521.75 705.5L522.02 697.88L522.29 705.5L522.56 713.12L522.83 697.88L523.1 697.88L523.37 697.88L523.64 697.88L523.91 690.26L524.18 690.26L524.45 697.88L524.72 682.64L524.99 690.26L525.26 682.64L525.53 697.88L525.8 690.26L526.07 697.88L526.34 697.88L526.61 690.26L526.88 682.64L527.15 690.26L527.42 720.74L527.69 720.74L527.96 697.88L528.23 697.88L528.5 690.26L528.77 682.64L529.04 705.5L529.31 713.12L529.58 713.12L529.85 682.64L530.12 690.26L530.39 690.26L530.65 690.26L530.92 690.26L531.19 682.64L531.46 682.64L531.73 675.02L532 713.12L532.27 705.5L532.54 697.88L532.81 690.26L533.08 690.26L533.35 697.88L533.62 705.5L533.89 705.5L534.16 697.88L534.43 690.26L534.7 690.26L534.97 675.02L535.24 682.64L535.51 675.02L535.78 728.36L536.05 720.74L536.32 728.36L536.59 713.12L536.86 720.74L537.13 713.12L537.4 713.12L537.67 705.5L537.94 713.12L538.21 705.5L538.48 705.5L538.75 697.88L539.02 697.88L539.29 697.88L539.56 690.26L539.83 697.88L540.1 705.5L540.37 690.26L540.64 690.26L540.91 675.02L541.18 682.64L541.45 690.26L541.72 682.64L541.99 675.02L542.26 675.02L542.53 682.64L542.8 705.5L543.07 697.88L543.34 697.88L543.61 705.5L543.88 697.88L544.14 667.4L544.41 675.02L544.68 682.64L544.95 675.02L545.22 682.64L545.49 675.02L545.76 705.5L546.03 705.5L546.3 690.26L546.57 682.64L546.84 675.02L547.11 675.02L547.38 705.5L547.65 682.64L547.92 690.26L548.19 682.64L548.46 682.64L548.73 682.64L549 682.64L549.27 690.26L549.54 682.64L549.81 690.26L550.08 697.88L550.35 705.5L550.62 713.12L550.89 720.74L551.16 720.74L551.43 713.12L551.7 697.88L551.97 713.12L552.24 713.12L552.51 713.12L552.78 705.5L553.05 697.88L553.32 705.5L553.59 697.88L553.86 705.5L554.13 697.88L554.4 697.88L554.67 690.26L554.94 697.88L555.21 690.26L555.48 682.64L555.75 675.02L556.02 667.4L556.29 675.02L556.56 667.4L556.83 659.78L557.1 705.5L557.37 705.5L557.63 690.26L557.9 697.88L558.17 697.88L558.44 705.5L558.71 697.88L558.98 697.88L559.25 697.88L559.52 705.5L559.79 705.5L560.06 697.88L560.33 682.64L560.6 682.64L560.87 675.02L561.14 682.64L561.41 682.64L561.68 675.02L561.95 675.02L562.22 667.4L562.49 667.4L562.76 667.4L563.03 675.02L563.3 675.02L563.57 682.64L563.84 675.02L564.11 675.02L564.38 682.64L564.65 675.02L564.92 713.12L565.19 697.88L565.46 697.88L565.73 705.5L566 705.5L566.27 713.12L566.54 713.12L566.81 667.4L567.08 675.02L567.35 675.02L567.62 675.02L567.89 675.02L568.16 682.64L568.43 675.02L568.7 682.64L568.97 675.02L569.24 675.02L569.51 682.64L569.78 690.26L570.05 675.02L570.32 705.5L570.59 697.88L570.86 720.74L571.12 713.12L571.39 720.74L571.66 713.12L571.93 705.5L572.2 713.12L572.47 705.5L572.74 675.02L573.01 682.64L573.28 690.26L573.55 667.4L573.82 720.74L574.09 728.36L574.36 667.4L574.63 705.5L574.9 713.12L575.17 667.4L575.44 667.4L575.71 675.02L575.98 735.98L576.25 728.36L576.52 720.74L576.79 697.88L577.06 697.88L577.33 705.5L577.6 735.98L577.87 728.36L578.14 728.36L578.41 720.74L578.68 720.74L578.95 713.12L579.22 713.12L579.49 705.5L579.76 697.88L580.03 682.64L580.3 675.02L580.57 682.64L580.84 675.02L581.11 690.26L581.38 713.12L581.65 675.02L581.92 682.64L582.19 713.12L582.46 690.26L582.73 697.88L583 690.26L583.27 697.88L583.54 705.5L583.81 705.5L584.08 682.64L584.35 690.26L584.62 690.26L584.88 705.5L585.15 713.12L585.42 705.5L585.69 697.88L585.96 690.26L586.23 690.26L586.5 697.88L586.77 697.88L587.04 690.26L587.31 697.88L587.58 705.5L587.85 697.88L588.12 690.26L588.39 697.88L588.66 697.88L588.93 697.88L589.2 697.88L589.47 705.5L589.74 720.74L590.01 728.36L590.28 728.36L590.55 728.36L590.82 720.74L591.09 728.36L591.36 720.74L591.63 720.74L591.9 713.12L592.17 713.12L592.44 705.5L592.71 720.74L592.98 713.12L593.25 713.12L593.52 705.5L593.79 713.12L594.06 705.5L594.33 705.5L594.6 697.88L594.87 697.88L595.14 675.02L595.41 667.4L595.68 675.02L595.95 667.4L596.22 667.4L596.49 713.12L596.76 705.5L597.03 705.5L597.3 697.88L597.57 690.26L597.84 728.36L598.11 720.74L598.37 728.36L598.64 720.74L598.91 690.26L599.18 720.74L599.45 713.12L599.72 720.74L599.99 720.74L600.26 720.74L600.53 728.36L600.8 728.36L601.07 720.74L601.34 713.12L601.61 713.12L601.88 705.5L602.15 713.12L602.42 720.74L602.69 713.12L602.96 705.5L603.23 713.12L603.5 720.74L603.77 713.12L604.04 705.5L604.31 697.88L604.58 697.88L604.85 720.74L605.12 713.12L605.39 705.5L605.66 705.5L605.93 705.5L606.2 682.64L606.47 682.64L606.74 682.64L607.01 705.5L607.28 690.26L607.55 690.26L607.82 697.88L608.09 705.5L608.36 697.88L608.63 682.64L608.9 682.64L609.17 713.12L609.44 697.88L609.71 690.26L609.98 682.64L610.25 682.64L610.52 690.26L610.79 690.26L611.06 697.88L611.33 705.5L611.6 705.5L611.86 705.5L612.13 728.36L612.4 682.64L612.67 690.26L612.94 705.5L613.21 705.5L613.48 713.12L613.75 720.74L614.02 728.36L614.29 735.98L614.56 697.88L614.83 697.88L615.1 690.26L615.37 697.88L615.64 697.88L615.91 705.5L616.18 690.26L616.45 697.88L616.72 697.88L616.99 690.26L617.26 690.26L617.53 690.26L617.8 713.12L618.07 720.74L618.34 690.26L618.61 667.4L618.88 675.02L619.15 675.02L619.42 675.02L619.69 720.74L619.96 720.74L620.23 713.12L620.5 675.02L620.77 667.4L621.04 667.4L621.31 667.4L621.58 667.4L621.85 675.02L622.12 675.02L622.39 667.4L622.66 675.02L622.93 667.4L623.2 675.02L623.47 705.5L623.74 713.12L624.01 720.74L624.28 667.4L624.55 675.02L624.82 682.64L625.09 690.26L625.35 713.12L625.62 720.74L625.89 690.26L626.16 690.26L626.43 697.88L626.7 690.26L626.97 675.02L627.24 682.64L627.51 690.26L627.78 690.26L628.05 705.5L628.32 697.88L628.59 690.26L628.86 682.64L629.13 675.02L629.4 675.02L629.67 667.4L629.94 667.4L630.21 675.02L630.48 667.4L630.75 697.88L631.02 697.88L631.29 690.26L631.56 682.64L631.83 682.64L632.1 675.02L632.37 682.64L632.64 690.26L632.91 690.26L633.18 697.88L633.45 690.26L633.72 682.64L633.99 697.88L634.26 652.16L634.53 659.78L634.8 652.16L635.07 644.54L635.34 705.5L635.61 697.88L635.88 690.26L636.15 690.26L636.42 690.26L636.69 690.26L636.96 697.88L637.23 690.26L637.5 690.26L637.77 682.64L638.04 675.02L638.31 713.12L638.58 713.12L638.84 720.74L639.11 713.12L639.38 705.5L639.65 697.88L639.92 697.88L640.19 720.74L640.46 667.4L640.73 675.02L641 675.02L641.27 682.64L641.54 690.26L641.81 690.26L642.08 682.64L642.35 675.02L642.62 667.4L642.89 667.4L643.16 675.02L643.43 667.4L643.7 675.02L643.97 667.4L644.24 675.02L644.51 682.64L644.78 675.02L645.05 667.4L645.32 659.78L645.59 720.74L645.86 720.74L646.13 705.5L646.4 667.4L646.67 705.5L646.94 690.26L647.21 659.78L647.48 659.78L647.75 667.4L648.02 667.4L648.29 667.4L648.56 697.88L648.83 697.88L649.1 697.88L649.37 690.26L649.64 659.78L649.91 667.4L650.18 675.02L650.45 667.4L650.72 675.02L650.99 682.64L651.26 682.64L651.53 675.02L651.8 675.02L652.07 667.4L652.33 675.02L652.6 667.4L652.87 675.02L653.14 697.88L653.41 690.26L653.68 690.26L653.95 697.88L654.22 682.64L654.49 690.26L654.76 690.26L655.03 705.5L655.3 705.5L655.57 697.88L655.84 690.26L656.11 682.64L656.38 690.26L656.65 697.88L656.92 690.26L657.19 720.74L657.46 713.12L657.73 713.12L658 720.74L658.27 705.5L658.54 697.88L658.81 690.26L659.08 720.74L659.35 713.12L659.62 713.12L659.89 713.12L660.16 705.5L660.43 697.88L660.7 705.5L660.97 713.12L661.24 705.5L661.51 713.12L661.78 705.5L662.05 705.5L662.32 705.5L662.59 705.5L662.86 705.5L663.13 697.88L663.4 705.5L663.67 697.88L663.94 690.26L664.21 697.88L664.48 690.26L664.75 697.88L665.02 690.26L665.29 697.88L665.56 697.88L665.82 690.26L666.09 728.36L666.36 690.26L666.63 697.88L666.9 705.5L667.17 705.5L667.44 713.12L667.71 713.12L667.98 705.5L668.25 713.12L668.52 705.5L668.79 697.88L669.06 697.88L669.33 713.12L669.6 705.5L669.87 713.12L670.14 690.26L670.41 682.64L670.68 682.64L670.95 705.5L671.22 705.5L671.49 713.12L671.76 705.5L672.03 697.88L672.3 705.5" fill="none" stroke="#0f2167" stroke-width="0.7" stroke-opacity="0.5"/><path d="M635.34 644.54h0M629.77 652.16H634.43M437.3 659.78h0M457.27 659.78h0M490.45 659.78h0M505.02 659.78h0M515.82 659.78h0M545.33 659.78H545.93M555.85 659.78H556.18M568.7 659.78h0M607.01 659.78h0M629.77 659.78H634.43M645.42 659.78H649.27M669.33 659.78h0M410.59 667.4h0M437.3 667.4h0M457.27 667.4h0M472.38 667.4h0M484.52 667.4h0M491.64 667.4H495.48M506.21 667.4H515.71M524.58 667.4h0M532.27 667.4h0M544.52 667.4H575.07M594.97 667.4H595.57M606.47 667.4h0M619.25 667.4H652.77M669.33 667.4h0M410.59 675.02h0M420.58 675.02h0M437.3 675.02h0M450.63 675.02H457.44M463.74 675.02h0M471.3 675.02h0M487.32 675.02H495.48M503.51 675.02H517.33M524.58 675.02h0M532.38 675.02H585.05M594.97 675.02H595.57M606.47 675.02h0M617.63 675.02H653.58M669.33 675.02h0M409.89 682.64H411.3M425.54 682.64H427.76M434.98 682.64H471.2M481.92 682.64H495.48M503.51 682.64H585.05M594.97 682.64H595.57M603.6 682.64H661.41M669.7 682.64H672.2M406.38 690.26H672.2M406.38 697.88H672.2M404.76 705.5H672.2M404.22 713.12H541.61M549.91 713.12H551.87M560.17 713.12H624.98M637.33 713.12H672.2M404.22 720.74H432.89M444.42 720.74H483.34M497.57 720.74H508.43M518.35 720.74H520.03M528.06 720.74H540.81M551.53 720.74H551.87M561.78 720.74H562.39M571.5 720.74H580.74M589.03 720.74H625.79M637.33 720.74H645.76M657.29 720.74H665.72M670.95 720.74h0M405.84 728.36H408.06M416.9 728.36H433.69M443.78 728.36h0M452.41 728.36h0M459.26 728.36H468.5M481.82 728.36h0M499.19 728.36H500.61M508.53 728.36h0M519.43 728.36H520.03M527.25 728.36H527.86M535.78 728.36h0M551.29 728.36h0M573.12 728.36H580.74M590.55 728.36h0M597.67 728.36H600.7M609.81 728.36H613.65M640.03 728.36H641.44M656.11 728.36h0M665.82 728.36h0M671.76 728.36h0M404.22 735.98H408.06M416.9 735.98H417.24M425.3 735.98h0M433.36 735.98H433.69M443.24 735.98h0M467.25 735.98h0M499.19 735.98H500.61M508.53 735.98h0M520.27 735.98h0M539.29 735.98h0M573.12 735.98H579.12M600.37 735.98H600.7M610.62 735.98H613.65M638.84 735.98h0M640.73 735.98h0M671.76 735.98h0M402.77 743.6h0M425.43 743.6h0M433.53 743.6h0M467.25 743.6h0M498.01 743.6h0M517.97 743.6h0M519.32 743.6h0M573.01 743.6h0M575.17 743.6h0M600.8 743.6h0M609.44 743.6h0M402.5 819.8h0M402.77 751.22h0M600.8 751.22h0M402.77 758.84h0M402.77 766.46h0M402.77 774.08h0M402.77 781.7h0M402.77 789.32h0M402.77 796.94h0" stroke="#0f2167" stroke-width="5.6" stroke-linecap="round"/></g><rect x="400" y="816.8" width="272.4" height="3" fill="#ec6656"/><rect x="388.8" y="591.2" width="283.59999999999997" height="228.5999999999999" fill="none" stroke="#222" stroke-width="1.3"/><path d="M388.8 819.8h-4.5" stroke="#222" stroke-width="1.3"/><text x="381.3" y="824.4" text-anchor="end" class="tk">0</text><path d="M388.8 781.7h-4.5" stroke="#222" stroke-width="1.3"/><text x="381.3" y="786.3" text-anchor="end" class="tk">5</text><path d="M388.8 743.6h-4.5" stroke="#222" stroke-width="1.3"/><text x="381.3" y="748.2" text-anchor="end" class="tk">10</text><path d="M388.8 705.5h-4.5" stroke="#222" stroke-width="1.3"/><text x="381.3" y="710.1" text-anchor="end" class="tk">15</text><path d="M388.8 667.4h-4.5" stroke="#222" stroke-width="1.3"/><text x="381.3" y="672" text-anchor="end" class="tk">20</text><path d="M388.8 629.3h-4.5" stroke="#222" stroke-width="1.3"/><text x="381.3" y="633.9" text-anchor="end" class="tk">25</text><path d="M388.8 591.2h-4.5" stroke="#222" stroke-width="1.3"/><text x="381.3" y="595.8" text-anchor="end" class="tk">30</text><path d="M388.8 800.75h-2.5" stroke="#222" stroke-width="1.3"/><path d="M388.8 762.65h-2.5" stroke="#222" stroke-width="1.3"/><path d="M388.8 724.55h-2.5" stroke="#222" stroke-width="1.3"/><path d="M388.8 686.45h-2.5" stroke="#222" stroke-width="1.3"/><path d="M388.8 648.35h-2.5" stroke="#222" stroke-width="1.3"/><path d="M388.8 610.25h-2.5" stroke="#222" stroke-width="1.3"/><path d="M402.5 819.8v4.5" stroke="#222" stroke-width="1.3"/><text x="402.5" y="839.6" text-anchor="middle" class="tk">0</text><path d="M456.46 819.8v4.5" stroke="#222" stroke-width="1.3"/><text x="456.46" y="839.6" text-anchor="middle" class="tk">20</text><path d="M510.42 819.8v4.5" stroke="#222" stroke-width="1.3"/><text x="510.42" y="839.6" text-anchor="middle" class="tk">40</text><path d="M564.38 819.8v4.5" stroke="#222" stroke-width="1.3"/><text x="564.38" y="839.6" text-anchor="middle" class="tk">60</text><path d="M618.34 819.8v4.5" stroke="#222" stroke-width="1.3"/><text x="618.34" y="839.6" text-anchor="middle" class="tk">80</text><path d="M672.3 819.8v4.5" stroke="#222" stroke-width="1.3"/><text x="672.3" y="839.6" text-anchor="middle" class="tk">100</text><path d="M429.48 819.8v2.5" stroke="#222" stroke-width="1.3"/><path d="M483.44 819.8v2.5" stroke="#222" stroke-width="1.3"/><path d="M537.4 819.8v2.5" stroke="#222" stroke-width="1.3"/><path d="M591.36 819.8v2.5" stroke="#222" stroke-width="1.3"/><path d="M645.32 819.8v2.5" stroke="#222" stroke-width="1.3"/><rect x="622.3" y="594.3" width="48.4" height="34.4" fill="#fff" stroke="#666" stroke-width="1"/><path d="M624.2 604.2H650.9" stroke="#0f2167" stroke-width="1" stroke-opacity="0.55"/><circle cx="637.4" cy="604.2" r="2.8" fill="#0f2167"/><text x="654.6" y="608.3" style="font-size:11.5px;font-weight:bold">K<tspan dy="-4.5" style="font-size:8px">+</tspan></text><path d="M624.2 620.7H650.9" stroke="#ec6656" stroke-width="1" stroke-opacity="0.55"/><circle cx="637.4" cy="620.7" r="2.8" fill="#ec6656"/><text x="654.6" y="624.8" style="font-size:11.5px;font-weight:bold">Cl<tspan dy="-4.5" style="font-size:8px">-</tspan></text><text transform="translate(359.2,705.8) rotate(-90)" text-anchor="middle" class="tt">Ion Number</text><text x="530.8" y="864.6" text-anchor="middle" class="tt">Time (ns)</text></svg></body></html>
